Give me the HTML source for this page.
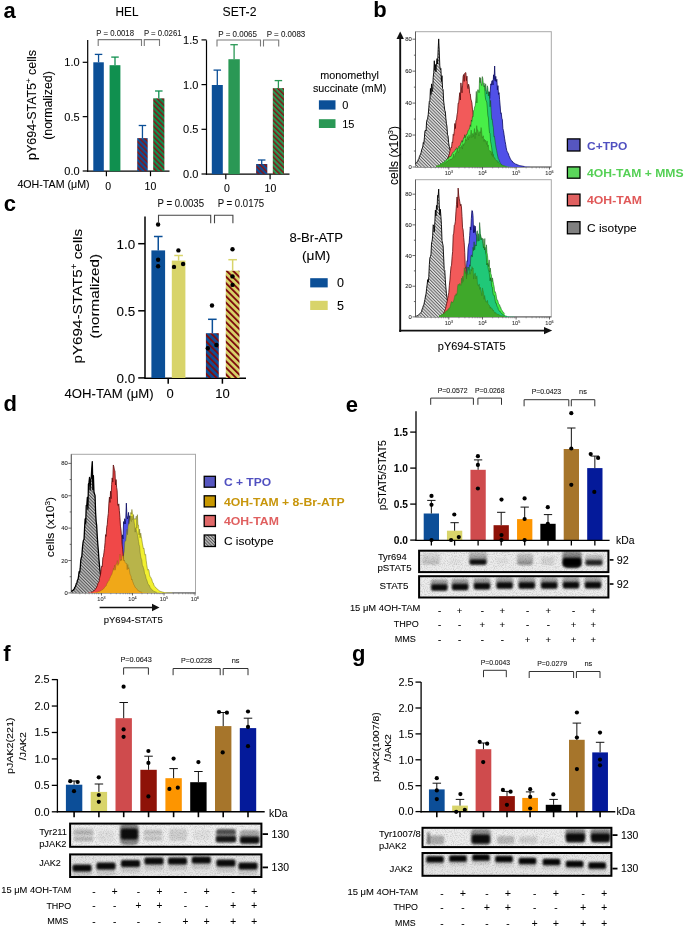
<!DOCTYPE html><html><head><meta charset="utf-8"><style>html,body{margin:0;padding:0;background:#fff;overflow:hidden}svg{display:block;will-change:transform}text{font-family:"Liberation Sans",sans-serif}</style></head><body>
<svg width="685" height="929" viewBox="0 0 685 929">
<defs>
<pattern id="hb" patternUnits="userSpaceOnUse" width="3.7" height="3.7" patternTransform="rotate(-45)"><rect width="3.7" height="3.7" fill="#0b4f97"/><rect x="0" y="0" width="1.5" height="3.7" fill="#861414"/></pattern>
<pattern id="hg" patternUnits="userSpaceOnUse" width="3.7" height="3.7" patternTransform="rotate(-45)"><rect width="3.7" height="3.7" fill="#10904f"/><rect x="0" y="0" width="1.5" height="3.7" fill="#861414"/></pattern>
<pattern id="hg2" patternUnits="userSpaceOnUse" width="3.7" height="3.7" patternTransform="rotate(-45)"><rect width="3.7" height="3.7" fill="#2a9855"/><rect x="0" y="0" width="1.5" height="3.7" fill="#861414"/></pattern>
<pattern id="hy" patternUnits="userSpaceOnUse" width="4.6" height="4.6" patternTransform="rotate(-45)"><rect width="4.6" height="4.6" fill="#d8d46a"/><rect x="0" y="0" width="1.9" height="4.6" fill="#7e0e0e"/></pattern>
<pattern id="hbc" patternUnits="userSpaceOnUse" width="4.6" height="4.6" patternTransform="rotate(-45)"><rect width="4.6" height="4.6" fill="#0b4f97"/><rect x="0" y="0" width="1.9" height="4.6" fill="#7e0e0e"/></pattern>
<pattern id="gh2" patternUnits="userSpaceOnUse" width="2.3" height="2.3" patternTransform="rotate(-45)"><rect width="2.3" height="2.3" fill="#c4c4c4"/><rect width="1.05" height="2.3" fill="#555"/></pattern>
<pattern id="gh" patternUnits="userSpaceOnUse" width="2.3" height="2.3" patternTransform="rotate(-45)"><rect width="2.3" height="2.3" fill="#e4e4e4"/><rect width="1.0" height="2.3" fill="#606060"/></pattern>
<filter id="bl1" x="-50%" y="-50%" width="200%" height="200%"><feGaussianBlur stdDeviation="1.2"/></filter>
<filter id="bl2" x="-50%" y="-50%" width="200%" height="200%"><feGaussianBlur stdDeviation="2"/></filter>
<filter id="bl05" x="-50%" y="-50%" width="200%" height="200%"><feGaussianBlur stdDeviation="0.6"/></filter>
<filter id="grain" x="0" y="0" width="100%" height="100%"><feTurbulence type="fractalNoise" baseFrequency="0.9" numOctaves="2" seed="3"/><feColorMatrix type="matrix" values="0 0 0 0 0  0 0 0 0 0  0 0 0 0 0  0 0 0 -2.2 1.25"/></filter>
<linearGradient id="bg1" x1="0" y1="0" x2="0" y2="1"><stop offset="0" stop-color="#000" stop-opacity="0.25"/><stop offset="0.55" stop-color="#000" stop-opacity="0.6"/><stop offset="1" stop-color="#000" stop-opacity="1"/></linearGradient>
</defs>
<text x="3.5" y="17.7" font-size="22" font-weight="bold" fill="#000">a</text>
<text x="373.2" y="16.6" font-size="22" font-weight="bold" fill="#000">b</text>
<text x="3.8" y="211" font-size="22" font-weight="bold" fill="#000">c</text>
<text x="3.5" y="410.8" font-size="22" font-weight="bold" fill="#000">d</text>
<text x="3.3" y="660.5" font-size="22" font-weight="bold" fill="#000">f</text>
<text x="352.0" y="661.3" font-size="22" font-weight="bold" fill="#000">g</text>
<text x="345.7" y="411.5" font-size="22" font-weight="bold" fill="#000">e</text>
<text x="127" y="16.2" font-size="12" text-anchor="middle" textLength="22.9" lengthAdjust="spacingAndGlyphs" fill="#000" stroke="#000" stroke-width="0.08">HEL</text>
<line x1="87.7" y1="40.0" x2="87.7" y2="171.79999999999998" stroke="#000" stroke-width="1.2"/>
<line x1="82.7" y1="62.3" x2="87.7" y2="62.3" stroke="#000" stroke-width="1.2"/>
<text x="79.6" y="66.25999999999999" font-size="11" text-anchor="end" fill="#000" stroke="#000" stroke-width="0.08">1.0</text>
<line x1="82.7" y1="116.65" x2="87.7" y2="116.65" stroke="#000" stroke-width="1.2"/>
<text x="79.6" y="120.61" font-size="11" text-anchor="end" fill="#000" stroke="#000" stroke-width="0.08">0.5</text>
<line x1="82.7" y1="171.0" x2="87.7" y2="171.0" stroke="#000" stroke-width="1.2"/>
<text x="79.6" y="174.96" font-size="11" text-anchor="end" fill="#000" stroke="#000" stroke-width="0.08">0.0</text>
<line x1="87.10000000000001" y1="171.2" x2="169.5" y2="171.2" stroke="#000" stroke-width="1.2"/>
<line x1="106.4" y1="171.2" x2="106.4" y2="176.2" stroke="#000" stroke-width="1.2"/>
<line x1="150.5" y1="171.2" x2="150.5" y2="176.2" stroke="#000" stroke-width="1.2"/>
<rect x="93.3" y="62.3" width="10.5" height="108.9" fill="#0b4f97"/>
<line x1="98.55" y1="62.3" x2="98.55" y2="54.4" stroke="#0b4f97" stroke-width="1.3"/>
<line x1="94.8" y1="54.4" x2="102.3" y2="54.4" stroke="#0b4f97" stroke-width="1.3"/>
<rect x="109.6" y="65.2" width="10.8" height="106.0" fill="#10904f"/>
<line x1="115.0" y1="65.2" x2="115.0" y2="57.1" stroke="#10904f" stroke-width="1.3"/>
<line x1="111.25" y1="57.1" x2="118.75" y2="57.1" stroke="#10904f" stroke-width="1.3"/>
<rect x="137.2" y="138.1" width="10.5" height="33.1" fill="url(#hb)"/>
<line x1="142.45" y1="138.1" x2="142.45" y2="125.5" stroke="#0b4f97" stroke-width="1.3"/>
<line x1="138.7" y1="125.5" x2="146.2" y2="125.5" stroke="#0b4f97" stroke-width="1.3"/>
<rect x="153.2" y="98.3" width="11.2" height="72.9" fill="url(#hg)"/>
<line x1="158.8" y1="98.3" x2="158.8" y2="91.0" stroke="#10904f" stroke-width="1.3"/>
<line x1="155.05" y1="91.0" x2="162.55" y2="91.0" stroke="#10904f" stroke-width="1.3"/>
<polyline points="98.2,46.0 98.2,39.6 141.5,39.6 141.5,46.0" fill="none" stroke="#7a7a7a" stroke-width="1.1"/>
<polyline points="144.3,46.0 144.3,39.6 159.5,39.6 159.5,46.0" fill="none" stroke="#7a7a7a" stroke-width="1.1"/>
<text x="96.3" y="35.9" font-size="8.6" textLength="37.7" lengthAdjust="spacingAndGlyphs" fill="#222" stroke="#222" stroke-width="0.08">P = 0.0018</text>
<text x="143.9" y="35.9" font-size="8.6" textLength="37.7" lengthAdjust="spacingAndGlyphs" fill="#222" stroke="#222" stroke-width="0.08">P = 0.0261</text>
<text x="239.5" y="16.2" font-size="12" text-anchor="middle" textLength="33.9" lengthAdjust="spacingAndGlyphs" fill="#000" stroke="#000" stroke-width="0.08">SET-2</text>
<line x1="206.5" y1="40.3" x2="206.5" y2="174.79999999999998" stroke="#000" stroke-width="1.2"/>
<line x1="201.5" y1="39.89999999999998" x2="206.5" y2="39.89999999999998" stroke="#000" stroke-width="1.2"/>
<text x="198.4" y="43.85999999999998" font-size="11" text-anchor="end" fill="#000" stroke="#000" stroke-width="0.08">1.5</text>
<line x1="201.5" y1="84.6" x2="206.5" y2="84.6" stroke="#000" stroke-width="1.2"/>
<text x="198.4" y="88.55999999999999" font-size="11" text-anchor="end" fill="#000" stroke="#000" stroke-width="0.08">1.0</text>
<line x1="201.5" y1="129.3" x2="206.5" y2="129.3" stroke="#000" stroke-width="1.2"/>
<text x="198.4" y="133.26000000000002" font-size="11" text-anchor="end" fill="#000" stroke="#000" stroke-width="0.08">0.5</text>
<line x1="201.5" y1="174.0" x2="206.5" y2="174.0" stroke="#000" stroke-width="1.2"/>
<text x="198.4" y="177.96" font-size="11" text-anchor="end" fill="#000" stroke="#000" stroke-width="0.08">0.0</text>
<line x1="205.9" y1="174.2" x2="289.5" y2="174.2" stroke="#000" stroke-width="1.2"/>
<line x1="225.8" y1="174.2" x2="225.8" y2="179.2" stroke="#000" stroke-width="1.2"/>
<line x1="270.1" y1="174.2" x2="270.1" y2="179.2" stroke="#000" stroke-width="1.2"/>
<rect x="211.8" y="85.0" width="11.0" height="89.2" fill="#0b4f97"/>
<line x1="217.3" y1="85.0" x2="217.3" y2="70.1" stroke="#0b4f97" stroke-width="1.3"/>
<line x1="213.55" y1="70.1" x2="221.05" y2="70.1" stroke="#0b4f97" stroke-width="1.3"/>
<rect x="228.4" y="59.2" width="11.4" height="115.0" fill="#2a9855"/>
<line x1="234.1" y1="59.2" x2="234.1" y2="44.7" stroke="#2a9855" stroke-width="1.3"/>
<line x1="230.35" y1="44.7" x2="237.85" y2="44.7" stroke="#2a9855" stroke-width="1.3"/>
<rect x="256.1" y="164.0" width="11.2" height="10.2" fill="url(#hb)"/>
<line x1="261.7" y1="164.0" x2="261.7" y2="160.0" stroke="#0b4f97" stroke-width="1.3"/>
<line x1="257.95" y1="160.0" x2="265.45" y2="160.0" stroke="#0b4f97" stroke-width="1.3"/>
<rect x="272.8" y="88.1" width="11.2" height="86.1" fill="url(#hg2)"/>
<line x1="278.4" y1="88.1" x2="278.4" y2="80.6" stroke="#2a9855" stroke-width="1.3"/>
<line x1="274.65" y1="80.6" x2="282.15" y2="80.6" stroke="#2a9855" stroke-width="1.3"/>
<polyline points="217.0,46.4 217.0,40.0 260.5,40.0 260.5,46.4" fill="none" stroke="#7a7a7a" stroke-width="1.1"/>
<polyline points="263.5,46.4 263.5,40.0 278.7,40.0 278.7,46.4" fill="none" stroke="#7a7a7a" stroke-width="1.1"/>
<text x="218.3" y="36.6" font-size="8.6" textLength="38.7" lengthAdjust="spacingAndGlyphs" fill="#222" stroke="#222" stroke-width="0.08">P = 0.0065</text>
<text x="266.7" y="36.6" font-size="8.6" textLength="38.6" lengthAdjust="spacingAndGlyphs" fill="#222" stroke="#222" stroke-width="0.08">P = 0.0083</text>
<text x="108.1" y="189.6" font-size="10.5" text-anchor="middle" fill="#000" stroke="#000" stroke-width="0.08">0</text>
<text x="150.4" y="189.6" font-size="10.5" text-anchor="middle" fill="#000" stroke="#000" stroke-width="0.08">10</text>
<text x="227.0" y="191.7" font-size="10.5" text-anchor="middle" fill="#000" stroke="#000" stroke-width="0.08">0</text>
<text x="270.4" y="191.7" font-size="10.5" text-anchor="middle" fill="#000" stroke="#000" stroke-width="0.08">10</text>
<text x="17.4" y="188.2" font-size="10.5" textLength="72.2" lengthAdjust="spacingAndGlyphs" fill="#000" stroke="#000" stroke-width="0.08">4OH-TAM (μM)</text>
<text x="36.1" y="105.0" font-size="12" text-anchor="middle" textLength="109.8" lengthAdjust="spacingAndGlyphs" transform="rotate(-90 36.1 105.0)" fill="#000" stroke="#000" stroke-width="0.08">pY694-STAT5<tspan font-size="7.5" dy="-4.6">+</tspan><tspan dy="4.6"> cells</tspan></text>
<text x="51.7" y="105.5" font-size="12" text-anchor="middle" textLength="68.5" lengthAdjust="spacingAndGlyphs" transform="rotate(-90 51.7 105.5)" fill="#000" stroke="#000" stroke-width="0.08">(normalized)</text>
<text x="349.6" y="78.9" font-size="10.5" text-anchor="middle" textLength="58.7" lengthAdjust="spacingAndGlyphs" fill="#000" stroke="#000" stroke-width="0.08">monomethyl</text>
<text x="349.6" y="91.9" font-size="10.5" text-anchor="middle" textLength="73.3" lengthAdjust="spacingAndGlyphs" fill="#000" stroke="#000" stroke-width="0.08">succinate (mM)</text>
<rect x="318.9" y="100.3" width="16.6" height="9.3" fill="#0b4f97"/>
<rect x="318.9" y="119.2" width="16.6" height="8.8" fill="#2a9855"/>
<text x="342.2" y="109.0" font-size="11" fill="#000" stroke="#000" stroke-width="0.08">0</text>
<text x="342.2" y="128.0" font-size="11" fill="#000" stroke="#000" stroke-width="0.08">15</text>
<line x1="145.0" y1="216.6" x2="145.0" y2="378.6" stroke="#000" stroke-width="1.5"/>
<line x1="138.2" y1="243.7" x2="145.0" y2="243.7" stroke="#000" stroke-width="1.5"/>
<text x="135.2" y="248.524" font-size="13.4" text-anchor="end" fill="#000" stroke="#000" stroke-width="0.08">1.0</text>
<line x1="138.2" y1="310.79999999999995" x2="145.0" y2="310.79999999999995" stroke="#000" stroke-width="1.5"/>
<text x="135.2" y="315.62399999999997" font-size="13.4" text-anchor="end" fill="#000" stroke="#000" stroke-width="0.08">0.5</text>
<line x1="138.2" y1="377.9" x2="145.0" y2="377.9" stroke="#000" stroke-width="1.5"/>
<text x="135.2" y="382.724" font-size="13.4" text-anchor="end" fill="#000" stroke="#000" stroke-width="0.08">0.0</text>
<line x1="144.4" y1="378.2" x2="246.0" y2="378.2" stroke="#000" stroke-width="1.5"/>
<line x1="168.2" y1="378.2" x2="168.2" y2="383.7" stroke="#000" stroke-width="1.5"/>
<line x1="222.4" y1="378.2" x2="222.4" y2="383.7" stroke="#000" stroke-width="1.5"/>
<rect x="151.4" y="250.4" width="13.7" height="127.6" fill="#0b4f97"/>
<line x1="158.25" y1="250.4" x2="158.25" y2="236.5" stroke="#0b4f97" stroke-width="1.5"/>
<line x1="153.95" y1="236.5" x2="162.55" y2="236.5" stroke="#0b4f97" stroke-width="1.5"/>
<rect x="171.8" y="260.6" width="13.6" height="117.4" fill="#d8d46a"/>
<line x1="178.6" y1="260.6" x2="178.6" y2="255.5" stroke="#d8d46a" stroke-width="1.5"/>
<line x1="174.29999999999998" y1="255.5" x2="182.9" y2="255.5" stroke="#d8d46a" stroke-width="1.5"/>
<rect x="205.9" y="333.2" width="12.9" height="44.8" fill="url(#hbc)"/>
<line x1="212.35" y1="333.2" x2="212.35" y2="319.3" stroke="#0b4f97" stroke-width="1.5"/>
<line x1="208.04999999999998" y1="319.3" x2="216.65" y2="319.3" stroke="#0b4f97" stroke-width="1.5"/>
<rect x="225.8" y="270.7" width="13.7" height="107.3" fill="url(#hy)"/>
<line x1="232.65" y1="270.7" x2="232.65" y2="259.7" stroke="#d8d46a" stroke-width="1.5"/>
<line x1="228.35" y1="259.7" x2="236.95000000000002" y2="259.7" stroke="#d8d46a" stroke-width="1.5"/>
<circle cx="158.1" cy="224.5" r="2.2" fill="#000"/>
<circle cx="158.1" cy="259.7" r="2.2" fill="#000"/>
<circle cx="158.1" cy="266.3" r="2.2" fill="#000"/>
<circle cx="178.4" cy="250.4" r="2.2" fill="#000"/>
<circle cx="174.0" cy="266.9" r="2.2" fill="#000"/>
<circle cx="183.1" cy="264.0" r="2.2" fill="#000"/>
<circle cx="232.5" cy="249.2" r="2.2" fill="#000"/>
<circle cx="232.5" cy="276.4" r="2.2" fill="#000"/>
<circle cx="232.5" cy="284.9" r="2.2" fill="#000"/>
<circle cx="212.0" cy="305.5" r="2.2" fill="#000"/>
<circle cx="207.8" cy="348.2" r="2.2" fill="#000"/>
<circle cx="216.4" cy="345.0" r="2.2" fill="#000"/>
<polyline points="158.5,223.2 158.5,215.2 210.7,215.2 210.7,223.2" fill="none" stroke="#444" stroke-width="1.1"/>
<polyline points="214.5,223.2 214.5,215.2 232.9,215.2 232.9,223.2" fill="none" stroke="#444" stroke-width="1.1"/>
<text x="157.5" y="207.1" font-size="10" textLength="46.5" lengthAdjust="spacingAndGlyphs" fill="#111" stroke="#111" stroke-width="0.08">P = 0.0035</text>
<text x="217.7" y="207.1" font-size="10" textLength="46.5" lengthAdjust="spacingAndGlyphs" fill="#111" stroke="#111" stroke-width="0.08">P = 0.0175</text>
<text x="170.0" y="398.0" font-size="13" text-anchor="middle" fill="#000" stroke="#000" stroke-width="0.08">0</text>
<text x="222.4" y="398.0" font-size="13" text-anchor="middle" fill="#000" stroke="#000" stroke-width="0.08">10</text>
<text x="64.5" y="397.5" font-size="13" textLength="89.2" lengthAdjust="spacingAndGlyphs" fill="#000" stroke="#000" stroke-width="0.08">4OH-TAM (μM)</text>
<text x="82.2" y="296.2" font-size="13.2" text-anchor="middle" textLength="134.6" lengthAdjust="spacingAndGlyphs" transform="rotate(-90 82.2 296.2)" fill="#000" stroke="#000" stroke-width="0.08">pY694-STAT5<tspan font-size="8.5" dy="-5">+</tspan><tspan dy="5"> cells</tspan></text>
<text x="99.5" y="296.2" font-size="13.5" text-anchor="middle" textLength="84.6" lengthAdjust="spacingAndGlyphs" transform="rotate(-90 99.5 296.2)" fill="#000" stroke="#000" stroke-width="0.08">(normalized)</text>
<text x="316.2" y="241.5" font-size="12.5" text-anchor="middle" textLength="53.6" lengthAdjust="spacingAndGlyphs" fill="#000" stroke="#000" stroke-width="0.08">8-Br-ATP</text>
<text x="316.2" y="259.5" font-size="12.5" text-anchor="middle" textLength="28.5" lengthAdjust="spacingAndGlyphs" fill="#000" stroke="#000" stroke-width="0.08">(μM)</text>
<rect x="310.2" y="278.2" width="17.5" height="9.2" fill="#0b4f97"/>
<rect x="310.2" y="300.8" width="17.5" height="9.2" fill="#d8d46a"/>
<text x="337.0" y="287.4" font-size="12.5" fill="#000" stroke="#000" stroke-width="0.08">0</text>
<text x="337.0" y="310.0" font-size="12.5" fill="#000" stroke="#000" stroke-width="0.08">5</text>
<rect x="415.5" y="31.7" width="135.8" height="135.3" fill="#fff" stroke="#a8a8a8" stroke-width="1"/>
<line x1="415.5" y1="31.7" x2="415.5" y2="167.0" stroke="#555" stroke-width="0.9"/>
<line x1="415.5" y1="167.0" x2="551.3" y2="167.0" stroke="#555" stroke-width="0.9"/>
<line x1="412.5" y1="167.0" x2="415.5" y2="167.0" stroke="#444" stroke-width="0.8"/>
<text x="411.9" y="169.0" font-size="5.9" text-anchor="end" fill="#222" stroke="#222" stroke-width="0.08">0</text>
<line x1="413.9" y1="151.025" x2="415.5" y2="151.025" stroke="#444" stroke-width="0.8"/>
<line x1="412.5" y1="135.05" x2="415.5" y2="135.05" stroke="#444" stroke-width="0.8"/>
<text x="411.9" y="137.05" font-size="5.9" text-anchor="end" fill="#222" stroke="#222" stroke-width="0.08">20</text>
<line x1="413.9" y1="119.075" x2="415.5" y2="119.075" stroke="#444" stroke-width="0.8"/>
<line x1="412.5" y1="103.1" x2="415.5" y2="103.1" stroke="#444" stroke-width="0.8"/>
<text x="411.9" y="105.1" font-size="5.9" text-anchor="end" fill="#222" stroke="#222" stroke-width="0.08">40</text>
<line x1="413.9" y1="87.125" x2="415.5" y2="87.125" stroke="#444" stroke-width="0.8"/>
<line x1="412.5" y1="71.15" x2="415.5" y2="71.15" stroke="#444" stroke-width="0.8"/>
<text x="411.9" y="73.15" font-size="5.9" text-anchor="end" fill="#222" stroke="#222" stroke-width="0.08">60</text>
<line x1="413.9" y1="55.17500000000001" x2="415.5" y2="55.17500000000001" stroke="#444" stroke-width="0.8"/>
<line x1="412.5" y1="39.2" x2="415.5" y2="39.2" stroke="#444" stroke-width="0.8"/>
<text x="411.9" y="41.2" font-size="5.9" text-anchor="end" fill="#222" stroke="#222" stroke-width="0.08">80</text>
<line x1="448.8" y1="167.0" x2="448.8" y2="169.6" stroke="#444" stroke-width="0.8"/>
<text x="448.8" y="175.4" font-size="5.605" text-anchor="middle" fill="#333" stroke="#333" stroke-width="0.08">10<tspan font-size="3.7" dy="-2">3</tspan></text>
<line x1="458.9447108538762" y1="167.0" x2="458.9447108538762" y2="168.4" stroke="#666" stroke-width="0.6"/>
<line x1="464.87898628405264" y1="167.0" x2="464.87898628405264" y2="168.4" stroke="#666" stroke-width="0.6"/>
<line x1="469.0894217077523" y1="167.0" x2="469.0894217077523" y2="168.4" stroke="#666" stroke-width="0.6"/>
<line x1="472.3552891461238" y1="167.0" x2="472.3552891461238" y2="168.4" stroke="#666" stroke-width="0.6"/>
<line x1="475.0236971379288" y1="167.0" x2="475.0236971379288" y2="168.4" stroke="#666" stroke-width="0.6"/>
<line x1="477.27980394848043" y1="167.0" x2="477.27980394848043" y2="168.4" stroke="#666" stroke-width="0.6"/>
<line x1="479.2341325616285" y1="167.0" x2="479.2341325616285" y2="168.4" stroke="#666" stroke-width="0.6"/>
<line x1="480.9579725681052" y1="167.0" x2="480.9579725681052" y2="168.4" stroke="#666" stroke-width="0.6"/>
<line x1="482.5" y1="167.0" x2="482.5" y2="169.6" stroke="#444" stroke-width="0.8"/>
<text x="482.5" y="175.4" font-size="5.605" text-anchor="middle" fill="#333" stroke="#333" stroke-width="0.08">10<tspan font-size="3.7" dy="-2">4</tspan></text>
<line x1="492.6146078543098" y1="167.0" x2="492.6146078543098" y2="168.4" stroke="#666" stroke-width="0.6"/>
<line x1="498.5312741585807" y1="167.0" x2="498.5312741585807" y2="168.4" stroke="#666" stroke-width="0.6"/>
<line x1="502.72921570861956" y1="167.0" x2="502.72921570861956" y2="168.4" stroke="#666" stroke-width="0.6"/>
<line x1="505.98539214569024" y1="167.0" x2="505.98539214569024" y2="168.4" stroke="#666" stroke-width="0.6"/>
<line x1="508.64588201289047" y1="167.0" x2="508.64588201289047" y2="168.4" stroke="#666" stroke-width="0.6"/>
<line x1="510.89529414447907" y1="167.0" x2="510.89529414447907" y2="168.4" stroke="#666" stroke-width="0.6"/>
<line x1="512.8438235629293" y1="167.0" x2="512.8438235629293" y2="168.4" stroke="#666" stroke-width="0.6"/>
<line x1="514.5625483171614" y1="167.0" x2="514.5625483171614" y2="168.4" stroke="#666" stroke-width="0.6"/>
<line x1="516.1" y1="167.0" x2="516.1" y2="169.6" stroke="#444" stroke-width="0.8"/>
<text x="516.1" y="175.4" font-size="5.605" text-anchor="middle" fill="#333" stroke="#333" stroke-width="0.08">10<tspan font-size="3.7" dy="-2">5</tspan></text>
<line x1="526.154401855177" y1="167.0" x2="526.154401855177" y2="168.4" stroke="#666" stroke-width="0.6"/>
<line x1="532.0358499076367" y1="167.0" x2="532.0358499076367" y2="168.4" stroke="#666" stroke-width="0.6"/>
<line x1="536.208803710354" y1="167.0" x2="536.208803710354" y2="168.4" stroke="#666" stroke-width="0.6"/>
<line x1="539.4455981448231" y1="167.0" x2="539.4455981448231" y2="168.4" stroke="#666" stroke-width="0.6"/>
<line x1="542.0902517628138" y1="167.0" x2="542.0902517628138" y2="168.4" stroke="#666" stroke-width="0.6"/>
<line x1="544.3262745364761" y1="167.0" x2="544.3262745364761" y2="168.4" stroke="#666" stroke-width="0.6"/>
<line x1="546.2632055655309" y1="167.0" x2="546.2632055655309" y2="168.4" stroke="#666" stroke-width="0.6"/>
<line x1="547.9716998152735" y1="167.0" x2="547.9716998152735" y2="168.4" stroke="#666" stroke-width="0.6"/>
<line x1="549.5" y1="167.0" x2="549.5" y2="169.6" stroke="#444" stroke-width="0.8"/>
<text x="549.5" y="175.4" font-size="5.605" text-anchor="middle" fill="#333" stroke="#333" stroke-width="0.08">10<tspan font-size="3.7" dy="-2">6</tspan></text>
<line x1="425.2447108538762" y1="167.0" x2="425.2447108538762" y2="168.4" stroke="#666" stroke-width="0.6"/>
<line x1="431.17898628405266" y1="167.0" x2="431.17898628405266" y2="168.4" stroke="#666" stroke-width="0.6"/>
<line x1="435.3894217077524" y1="167.0" x2="435.3894217077524" y2="168.4" stroke="#666" stroke-width="0.6"/>
<line x1="438.65528914612383" y1="167.0" x2="438.65528914612383" y2="168.4" stroke="#666" stroke-width="0.6"/>
<line x1="441.3236971379288" y1="167.0" x2="441.3236971379288" y2="168.4" stroke="#666" stroke-width="0.6"/>
<line x1="443.57980394848045" y1="167.0" x2="443.57980394848045" y2="168.4" stroke="#666" stroke-width="0.6"/>
<line x1="445.5341325616285" y1="167.0" x2="445.5341325616285" y2="168.4" stroke="#666" stroke-width="0.6"/>
<line x1="447.2579725681053" y1="167.0" x2="447.2579725681053" y2="168.4" stroke="#666" stroke-width="0.6"/>
<polygon points="415.6,167.0 415.6,163.87 416.15,162.92 416.7,162.69 417.25,161.47 417.8,161.2 418.35,159.37 418.9,158.6 419.45,156.43 420.0,155.23 420.55,154.14 421.1,152.64 421.65,149.95 422.2,148.3 422.75,147.0 423.3,142.5 423.85,143.47 424.4,137.77 424.95,131.05 425.5,130.11 426.05,131.02 426.6,121.31 427.15,119.79 427.7,118.18 428.25,114.35 428.8,107.82 429.35,100.98 429.9,100.41 430.45,88.44 431.0,94.61 431.55,83.88 432.1,91.67 432.65,89.85 433.2,77.54 433.75,72.34 434.3,60.74 434.85,70.39 435.4,64.54 435.95,71.83 436.5,62.85 437.05,58.6 437.6,64.03 438.15,49.38 438.7,38.91 439.25,50.97 439.8,65.92 440.35,69.6 440.9,68.53 441.45,81.54 442.0,75.69 442.55,88.47 443.1,89.6 443.65,100.94 444.2,105.51 444.75,110.34 445.3,111.34 445.85,118.26 446.4,123.36 446.95,126.22 447.5,134.9 448.05,135.85 448.6,142.24 449.15,146.11 449.7,148.77 450.25,150.04 450.8,152.27 451.35,156.18 451.9,158.33 452.45,160.1 453.0,160.78 453.55,161.85 454.1,162.87 454.65,163.74 455.2,164.25 455.75,165.0 455.75,167.0" fill="url(#gh)" stroke="none"/>
<polyline points="415.6,163.87 416.15,162.92 416.7,162.69 417.25,161.47 417.8,161.2 418.35,159.37 418.9,158.6 419.45,156.43 420.0,155.23 420.55,154.14 421.1,152.64 421.65,149.95 422.2,148.3 422.75,147.0 423.3,142.5 423.85,143.47 424.4,137.77 424.95,131.05 425.5,130.11 426.05,131.02 426.6,121.31 427.15,119.79 427.7,118.18 428.25,114.35 428.8,107.82 429.35,100.98 429.9,100.41 430.45,88.44 431.0,94.61 431.55,83.88 432.1,91.67 432.65,89.85 433.2,77.54 433.75,72.34 434.3,60.74 434.85,70.39 435.4,64.54 435.95,71.83 436.5,62.85 437.05,58.6 437.6,64.03 438.15,49.38 438.7,38.91 439.25,50.97 439.8,65.92 440.35,69.6 440.9,68.53 441.45,81.54 442.0,75.69 442.55,88.47 443.1,89.6 443.65,100.94 444.2,105.51 444.75,110.34 445.3,111.34 445.85,118.26 446.4,123.36 446.95,126.22 447.5,134.9 448.05,135.85 448.6,142.24 449.15,146.11 449.7,148.77 450.25,150.04 450.8,152.27 451.35,156.18 451.9,158.33 452.45,160.1 453.0,160.78 453.55,161.85 454.1,162.87 454.65,163.74 455.2,164.25 455.75,165.0" fill="none" stroke="#000" stroke-width="0.9" stroke-linejoin="round"/>
<polygon points="416,167.0 416,167.0 416.55,167.0 417.1,167.0 417.65,167.0 418.2,167.0 418.75,167.0 419.3,167.0 419.85,167.0 420.4,167.0 420.95,167.0 421.5,167.0 422.05,167.0 422.6,167.0 423.15,167.0 423.7,167.0 424.25,167.0 424.8,167.0 425.35,167.0 425.9,167.0 426.45,167.0 427.0,167.0 427.55,167.0 428.1,167.0 428.65,167.0 429.2,167.0 429.75,167.0 430.3,167.0 430.85,167.0 431.4,167.0 431.95,167.0 432.5,167.0 433.05,167.0 433.6,167.0 434.15,167.0 434.7,167.0 435.25,167.0 435.8,167.0 436.35,167.0 436.9,167.0 437.45,167.0 438.0,167.0 438.55,167.0 439.1,167.0 439.65,167.0 440.2,167.0 440.75,167.0 441.3,167.0 441.85,167.0 442.4,167.0 442.95,167.0 443.5,167.0 444.05,167.0 444.6,167.0 445.15,167.0 445.7,167.0 446.25,167.0 446.8,167.0 447.35,167.0 447.9,167.0 448.45,167.0 449.0,167.0 449.55,167.0 450.1,167.0 450.65,167.0 451.2,167.0 451.75,167.0 452.3,167.0 452.85,167.0 453.4,167.0 453.95,167.0 454.5,167.0 455.05,167.0 455.6,167.0 456.15,167.0 456.7,167.0 457.25,167.0 457.8,166.99 458.35,166.99 458.9,166.99 459.45,166.99 460.0,166.98 460.55,166.98 461.1,166.97 461.65,166.97 462.2,166.96 462.75,166.95 463.3,166.93 463.85,166.91 464.4,166.89 464.95,166.86 465.5,166.83 466.05,166.79 466.6,166.73 467.15,166.67 467.7,166.59 468.25,166.52 468.8,166.35 469.35,166.18 469.9,166.08 470.45,165.94 471.0,165.61 471.55,165.26 472.1,164.83 472.65,164.74 473.2,164.32 473.75,163.4 474.3,162.8 474.85,161.74 475.4,161.02 475.95,160.44 476.5,159.46 477.05,157.16 477.6,156.94 478.15,155.81 478.7,154.5 479.25,151.65 479.8,149.57 480.35,147.92 480.9,145.22 481.45,142.18 482.0,138.71 482.55,134.95 483.1,133.45 483.65,134.55 484.2,125.63 484.75,127.52 485.3,120.78 485.85,121.14 486.4,113.05 486.95,112.11 487.5,105.03 488.05,95.3 488.6,99.07 489.15,91.99 489.7,98.42 490.25,90.97 490.8,83.84 491.35,85.15 491.9,80.81 492.45,80.48 493.0,84.98 493.55,74.81 494.1,79.4 494.65,66.0 495.2,81.02 495.75,76.35 496.3,81.72 496.85,79.34 497.4,89.84 497.95,85.65 498.5,94.47 499.05,92.66 499.6,99.66 500.15,105.9 500.7,113.45 501.25,112.82 501.8,118.21 502.35,119.49 502.9,128.69 503.45,130.46 504.0,134.28 504.55,138.12 505.1,141.38 505.65,144.28 506.2,147.79 506.75,150.45 507.3,151.8 507.85,152.76 508.4,153.75 508.95,155.63 509.5,156.89 510.05,158.18 510.6,159.19 511.15,160.25 511.7,160.75 512.25,161.08 512.8,162.29 513.35,162.85 513.9,162.67 514.45,163.41 515.0,163.61 515.55,163.94 516.1,164.54 516.65,164.34 517.2,164.59 517.75,165.0 518.3,165.13 518.85,165.37 519.4,165.61 519.95,165.68 520.5,165.78 521.05,165.85 521.6,165.99 522.15,166.13 522.7,166.16 523.25,166.34 523.8,166.36 524.35,166.42 524.9,166.53 525.45,166.57 526.0,166.62 526.55,166.67 527.1,166.71 527.65,166.75 528.2,166.78 528.75,166.81 529.3,166.83 529.85,166.86 529.85,167.0" fill="#5050e8" stroke="none"/>
<polyline points="468.8,166.35 469.35,166.18 469.9,166.08 470.45,165.94 471.0,165.61 471.55,165.26 472.1,164.83 472.65,164.74 473.2,164.32 473.75,163.4 474.3,162.8 474.85,161.74 475.4,161.02 475.95,160.44 476.5,159.46 477.05,157.16 477.6,156.94 478.15,155.81 478.7,154.5 479.25,151.65 479.8,149.57 480.35,147.92 480.9,145.22 481.45,142.18 482.0,138.71 482.55,134.95 483.1,133.45 483.65,134.55 484.2,125.63 484.75,127.52 485.3,120.78 485.85,121.14 486.4,113.05 486.95,112.11 487.5,105.03 488.05,95.3 488.6,99.07 489.15,91.99 489.7,98.42 490.25,90.97 490.8,83.84 491.35,85.15 491.9,80.81 492.45,80.48 493.0,84.98 493.55,74.81 494.1,79.4 494.65,66.0 495.2,81.02 495.75,76.35 496.3,81.72 496.85,79.34 497.4,89.84 497.95,85.65 498.5,94.47 499.05,92.66 499.6,99.66 500.15,105.9 500.7,113.45 501.25,112.82 501.8,118.21 502.35,119.49 502.9,128.69 503.45,130.46 504.0,134.28 504.55,138.12 505.1,141.38 505.65,144.28 506.2,147.79 506.75,150.45 507.3,151.8 507.85,152.76 508.4,153.75 508.95,155.63 509.5,156.89 510.05,158.18 510.6,159.19 511.15,160.25 511.7,160.75 512.25,161.08 512.8,162.29 513.35,162.85 513.9,162.67 514.45,163.41 515.0,163.61 515.55,163.94 516.1,164.54 516.65,164.34 517.2,164.59 517.75,165.0 518.3,165.13 518.85,165.37 519.4,165.61 519.95,165.68 520.5,165.78 521.05,165.85 521.6,165.99 522.15,166.13 522.7,166.16 523.25,166.34 523.8,166.36 524.35,166.42" fill="none" stroke="#0a0a60" stroke-width="0.8" stroke-linejoin="round"/>
<polygon points="440,167.0 440,167.0 440.55,167.0 441.1,167.0 441.65,167.0 442.2,167.0 442.75,167.0 443.3,167.0 443.85,167.0 444.4,167.0 444.95,167.0 445.5,167.0 446.05,167.0 446.6,167.0 447.15,166.99 447.7,166.99 448.25,166.99 448.8,166.99 449.35,166.98 449.9,166.98 450.45,166.97 451.0,166.96 451.55,166.95 452.1,166.94 452.65,166.93 453.2,166.91 453.75,166.88 454.3,166.86 454.85,166.82 455.4,166.78 455.95,166.73 456.5,166.67 457.05,166.59 457.6,166.55 458.15,166.39 458.7,166.29 459.25,166.15 459.8,165.89 460.35,165.74 460.9,165.54 461.45,165.04 462.0,164.98 462.55,164.73 463.1,164.36 463.65,163.74 464.2,162.93 464.75,162.22 465.3,161.39 465.85,160.3 466.4,159.35 466.95,158.76 467.5,157.25 468.05,156.36 468.6,155.82 469.15,153.32 469.7,152.33 470.25,150.87 470.8,146.91 471.35,145.9 471.9,145.37 472.45,142.59 473.0,137.3 473.55,138.06 474.1,133.6 474.65,131.03 475.2,128.38 475.75,125.25 476.3,125.03 476.85,122.11 477.4,118.33 477.95,116.02 478.5,109.26 479.05,103.65 479.6,109.53 480.15,101.44 480.7,104.88 481.25,101.4 481.8,97.3 482.35,93.74 482.9,94.36 483.45,99.24 484.0,82.92 484.55,89.65 485.1,90.63 485.65,83.77 486.2,89.77 486.75,94.02 487.3,85.74 487.85,87.81 488.4,95.87 488.95,91.41 489.5,96.99 490.05,106.89 490.6,100.42 491.15,110.29 491.7,119.36 492.25,119.25 492.8,124.85 493.35,127.51 493.9,136.75 494.45,136.35 495.0,140.57 495.55,144.62 496.1,148.04 496.65,150.36 497.2,153.56 497.75,156.26 498.3,158.71 498.85,159.42 499.4,160.95 499.95,162.36 500.5,163.37 501.05,164.06 501.6,165.06 502.15,165.29 502.7,165.86 503.25,166.02 503.8,166.23 504.35,166.41 504.9,166.61 505.45,166.72 506.0,166.8 506.55,166.85 507.1,166.9 507.65,166.93 508.2,166.95 508.75,166.97 509.3,166.98 509.85,166.98 510.4,166.99 510.95,166.99 511.5,167.0 512.05,167.0 512.6,167.0 513.15,167.0 513.7,167.0 514.25,167.0 514.8,167.0 515.35,167.0 515.9,167.0 516.45,167.0 517.0,167.0 517.55,167.0 518.1,167.0 518.65,167.0 519.2,167.0 519.75,167.0 519.75,167.0" fill="#20c878" stroke="none"/>
<polyline points="458.15,166.39 458.7,166.29 459.25,166.15 459.8,165.89 460.35,165.74 460.9,165.54 461.45,165.04 462.0,164.98 462.55,164.73 463.1,164.36 463.65,163.74 464.2,162.93 464.75,162.22 465.3,161.39 465.85,160.3 466.4,159.35 466.95,158.76 467.5,157.25 468.05,156.36 468.6,155.82 469.15,153.32 469.7,152.33 470.25,150.87 470.8,146.91 471.35,145.9 471.9,145.37 472.45,142.59 473.0,137.3 473.55,138.06 474.1,133.6 474.65,131.03 475.2,128.38 475.75,125.25 476.3,125.03 476.85,122.11 477.4,118.33 477.95,116.02 478.5,109.26 479.05,103.65 479.6,109.53 480.15,101.44 480.7,104.88 481.25,101.4 481.8,97.3 482.35,93.74 482.9,94.36 483.45,99.24 484.0,82.92 484.55,89.65 485.1,90.63 485.65,83.77 486.2,89.77 486.75,94.02 487.3,85.74 487.85,87.81 488.4,95.87 488.95,91.41 489.5,96.99 490.05,106.89 490.6,100.42 491.15,110.29 491.7,119.36 492.25,119.25 492.8,124.85 493.35,127.51 493.9,136.75 494.45,136.35 495.0,140.57 495.55,144.62 496.1,148.04 496.65,150.36 497.2,153.56 497.75,156.26 498.3,158.71 498.85,159.42 499.4,160.95 499.95,162.36 500.5,163.37 501.05,164.06 501.6,165.06 502.15,165.29 502.7,165.86 503.25,166.02 503.8,166.23 504.35,166.41" fill="none" stroke="#0d4d0d" stroke-width="0.5" stroke-linejoin="round"/>
<polygon points="440,167.0 440,166.34 440.55,166.1 441.1,166.03 441.65,165.89 442.2,165.46 442.75,165.09 443.3,164.72 443.85,164.24 444.4,163.82 444.95,163.32 445.5,162.68 446.05,161.73 446.6,160.87 447.15,159.26 447.7,158.16 448.25,157.87 448.8,155.15 449.35,153.98 449.9,151.12 450.45,148.57 451.0,147.24 451.55,147.78 452.1,141.96 452.65,142.66 453.2,134.4 453.75,135.4 454.3,131.26 454.85,123.47 455.4,128.52 455.95,120.28 456.5,119.96 457.05,114.71 457.6,112.11 458.15,103.18 458.7,103.32 459.25,97.26 459.8,92.63 460.35,100.01 460.9,82.9 461.45,88.03 462.0,92.8 462.55,85.96 463.1,76.48 463.65,74.52 464.2,81.36 464.75,73.24 465.3,72.85 465.85,72.61 466.4,80.66 466.95,76.17 467.5,87.5 468.05,88.62 468.6,84.26 469.15,86.84 469.7,93.43 470.25,93.88 470.8,99.05 471.35,100.52 471.9,102.95 472.45,109.16 473.0,112.11 473.55,119.64 474.1,123.72 474.65,130.54 475.2,128.44 475.75,132.71 476.3,135.02 476.85,142.27 477.4,142.73 477.95,145.46 478.5,149.38 479.05,148.57 479.6,150.51 480.15,154.62 480.7,155.01 481.25,155.89 481.8,158.94 482.35,159.1 482.9,160.03 483.45,161.07 484.0,162.82 484.55,163.42 484.55,167.0" fill="#f25a5a" stroke="none"/>
<polyline points="440,166.34 440.55,166.1 441.1,166.03 441.65,165.89 442.2,165.46 442.75,165.09 443.3,164.72 443.85,164.24 444.4,163.82 444.95,163.32 445.5,162.68 446.05,161.73 446.6,160.87 447.15,159.26 447.7,158.16 448.25,157.87 448.8,155.15 449.35,153.98 449.9,151.12 450.45,148.57 451.0,147.24 451.55,147.78 452.1,141.96 452.65,142.66 453.2,134.4 453.75,135.4 454.3,131.26 454.85,123.47 455.4,128.52 455.95,120.28 456.5,119.96 457.05,114.71 457.6,112.11 458.15,103.18 458.7,103.32 459.25,97.26 459.8,92.63 460.35,100.01 460.9,82.9 461.45,88.03 462.0,92.8 462.55,85.96 463.1,76.48 463.65,74.52 464.2,81.36 464.75,73.24 465.3,72.85 465.85,72.61 466.4,80.66 466.95,76.17 467.5,87.5 468.05,88.62 468.6,84.26 469.15,86.84 469.7,93.43 470.25,93.88 470.8,99.05 471.35,100.52 471.9,102.95 472.45,109.16 473.0,112.11 473.55,119.64 474.1,123.72 474.65,130.54 475.2,128.44 475.75,132.71 476.3,135.02 476.85,142.27 477.4,142.73 477.95,145.46 478.5,149.38 479.05,148.57 479.6,150.51 480.15,154.62 480.7,155.01 481.25,155.89 481.8,158.94 482.35,159.1 482.9,160.03 483.45,161.07 484.0,162.82 484.55,163.42" fill="none" stroke="#5a0a0a" stroke-width="0.8" stroke-linejoin="round"/>
<polygon points="440,167.0 440,163.89 440.55,163.67 441.1,163.87 441.65,163.7 442.2,163.02 442.75,162.48 443.3,162.38 443.85,162.41 444.4,161.76 444.95,160.7 445.5,161.3 446.05,159.93 446.6,159.66 447.15,159.19 447.7,158.54 448.25,158.68 448.8,157.93 449.35,156.26 449.9,156.98 450.45,156.43 451.0,156.51 451.55,155.27 452.1,153.73 452.65,152.65 453.2,152.45 453.75,151.77 454.3,151.11 454.85,150.64 455.4,149.27 455.95,149.73 456.5,147.71 457.05,148.25 457.6,149.33 458.15,148.31 458.7,146.3 459.25,145.94 459.8,146.26 460.35,144.98 460.9,142.96 461.45,141.91 462.0,140.49 462.55,142.36 463.1,139.66 463.65,137.78 464.2,138.05 464.75,134.72 465.3,137.72 465.85,135.91 466.4,134.51 466.95,134.52 467.5,132.6 468.05,130.67 468.6,129.79 469.15,129.29 469.7,127.49 470.25,124.75 470.8,126.62 471.35,119.99 471.9,121.45 472.45,116.74 473.0,117.02 473.55,110.76 474.1,109.82 474.65,106.82 475.2,106.01 475.75,100.11 476.3,91.45 476.85,102.99 477.4,90.67 477.95,89.59 478.5,90.26 479.05,92.61 479.6,77.34 480.15,82.72 480.7,77.69 481.25,83.9 481.8,85.64 482.35,76.59 482.9,78.93 483.45,85.22 484.0,86.76 484.55,85.62 485.1,95.49 485.65,99.54 486.2,100.83 486.75,102.02 487.3,108.05 487.85,115.67 488.4,117.99 488.95,127.16 489.5,132.83 490.05,133.25 490.6,141.66 491.15,144.1 491.7,147.84 492.25,151.48 492.8,154.16 493.35,156.26 493.9,158.39 494.45,160.55 495.0,161.7 495.55,162.48 496.1,163.58 496.65,164.51 497.2,165.01 497.75,165.55 498.3,165.9 498.85,166.11 499.4,166.22 499.95,166.47 499.95,167.0" fill="#48ee48" stroke="none"/>
<polyline points="440,163.89 440.55,163.67 441.1,163.87 441.65,163.7 442.2,163.02 442.75,162.48 443.3,162.38 443.85,162.41 444.4,161.76 444.95,160.7 445.5,161.3 446.05,159.93 446.6,159.66 447.15,159.19 447.7,158.54 448.25,158.68 448.8,157.93 449.35,156.26 449.9,156.98 450.45,156.43 451.0,156.51 451.55,155.27 452.1,153.73 452.65,152.65 453.2,152.45 453.75,151.77 454.3,151.11 454.85,150.64 455.4,149.27 455.95,149.73 456.5,147.71 457.05,148.25 457.6,149.33 458.15,148.31 458.7,146.3 459.25,145.94 459.8,146.26 460.35,144.98 460.9,142.96 461.45,141.91 462.0,140.49 462.55,142.36 463.1,139.66 463.65,137.78 464.2,138.05 464.75,134.72 465.3,137.72 465.85,135.91 466.4,134.51 466.95,134.52 467.5,132.6 468.05,130.67 468.6,129.79 469.15,129.29 469.7,127.49 470.25,124.75 470.8,126.62 471.35,119.99 471.9,121.45 472.45,116.74 473.0,117.02 473.55,110.76 474.1,109.82 474.65,106.82 475.2,106.01 475.75,100.11 476.3,91.45 476.85,102.99 477.4,90.67 477.95,89.59 478.5,90.26 479.05,92.61 479.6,77.34 480.15,82.72 480.7,77.69 481.25,83.9 481.8,85.64 482.35,76.59 482.9,78.93 483.45,85.22 484.0,86.76 484.55,85.62 485.1,95.49 485.65,99.54 486.2,100.83 486.75,102.02 487.3,108.05 487.85,115.67 488.4,117.99 488.95,127.16 489.5,132.83 490.05,133.25 490.6,141.66 491.15,144.1 491.7,147.84 492.25,151.48 492.8,154.16 493.35,156.26 493.9,158.39 494.45,160.55 495.0,161.7 495.55,162.48 496.1,163.58 496.65,164.51 497.2,165.01 497.75,165.55 498.3,165.9 498.85,166.11 499.4,166.22" fill="none" stroke="#0d4d0d" stroke-width="0.5" stroke-linejoin="round"/>
<polygon points="436,167.0 436,165.86 436.55,165.78 437.1,165.67 437.65,165.62 438.2,165.38 438.75,165.27 439.3,164.91 439.85,165.16 440.4,164.38 440.95,165.03 441.5,164.38 442.05,163.93 442.6,164.02 443.15,163.98 443.7,163.49 444.25,162.93 444.8,162.4 445.35,163.31 445.9,162.2 446.45,162.31 447.0,161.05 447.55,161.57 448.1,160.79 448.65,159.75 449.2,160.29 449.75,159.46 450.3,159.83 450.85,158.98 451.4,159.76 451.95,158.57 452.5,157.74 453.05,157.42 453.6,154.04 454.15,157.51 454.7,157.02 455.25,154.02 455.8,152.84 456.35,152.84 456.9,150.64 457.45,148.82 458.0,151.85 458.55,152.7 459.1,149.97 459.65,146.72 460.2,147.41 460.75,147.93 461.3,146.14 461.85,145.44 462.4,149.08 462.95,143.57 463.5,145.91 464.05,143.79 464.6,143.81 465.15,141.56 465.7,138.53 466.25,140.96 466.8,139.27 467.35,136.42 467.9,137.06 468.45,139.88 469.0,134.75 469.55,137.99 470.1,137.03 470.65,134.93 471.2,130.1 471.75,137.63 472.3,135.63 472.85,133.37 473.4,136.55 473.95,132.81 474.5,128.47 475.05,138.67 475.6,132.41 476.15,134.96 476.7,125.67 477.25,129.98 477.8,129.92 478.35,132.58 478.9,136.01 479.45,132.22 480.0,131.54 480.55,133.13 481.1,127.53 481.65,131.72 482.2,138.07 482.75,137.09 483.3,135.75 483.85,141.3 484.4,139.14 484.95,141.38 485.5,140.17 486.05,141.41 486.6,144.47 487.15,140.98 487.7,146.52 488.25,144.9 488.8,149.64 489.35,150.5 489.9,150.92 490.45,151.6 491.0,150.72 491.55,155.24 492.1,151.84 492.65,156.56 493.2,154.29 493.75,156.69 494.3,158.22 494.85,157.81 495.4,159.69 495.95,160.03 496.5,160.64 497.05,160.24 497.6,162.41 498.15,161.55 498.7,163.02 499.25,163.62 499.8,163.92 500.35,163.75 500.9,164.52 501.45,164.95 502.0,164.91 502.55,165.24 503.1,165.34 503.65,165.85 504.2,165.7 504.75,165.9 505.3,166.22 505.85,166.3 506.4,166.35 506.95,166.49 507.5,166.55 508.05,166.62 508.6,166.67 509.15,166.73 509.7,166.77 510.25,166.81 510.8,166.84 511.35,166.86 511.9,166.89 511.9,167.0" fill="#3fa82a" stroke="none"/>
<polyline points="436,165.86 436.55,165.78 437.1,165.67 437.65,165.62 438.2,165.38 438.75,165.27 439.3,164.91 439.85,165.16 440.4,164.38 440.95,165.03 441.5,164.38 442.05,163.93 442.6,164.02 443.15,163.98 443.7,163.49 444.25,162.93 444.8,162.4 445.35,163.31 445.9,162.2 446.45,162.31 447.0,161.05 447.55,161.57 448.1,160.79 448.65,159.75 449.2,160.29 449.75,159.46 450.3,159.83 450.85,158.98 451.4,159.76 451.95,158.57 452.5,157.74 453.05,157.42 453.6,154.04 454.15,157.51 454.7,157.02 455.25,154.02 455.8,152.84 456.35,152.84 456.9,150.64 457.45,148.82 458.0,151.85 458.55,152.7 459.1,149.97 459.65,146.72 460.2,147.41 460.75,147.93 461.3,146.14 461.85,145.44 462.4,149.08 462.95,143.57 463.5,145.91 464.05,143.79 464.6,143.81 465.15,141.56 465.7,138.53 466.25,140.96 466.8,139.27 467.35,136.42 467.9,137.06 468.45,139.88 469.0,134.75 469.55,137.99 470.1,137.03 470.65,134.93 471.2,130.1 471.75,137.63 472.3,135.63 472.85,133.37 473.4,136.55 473.95,132.81 474.5,128.47 475.05,138.67 475.6,132.41 476.15,134.96 476.7,125.67 477.25,129.98 477.8,129.92 478.35,132.58 478.9,136.01 479.45,132.22 480.0,131.54 480.55,133.13 481.1,127.53 481.65,131.72 482.2,138.07 482.75,137.09 483.3,135.75 483.85,141.3 484.4,139.14 484.95,141.38 485.5,140.17 486.05,141.41 486.6,144.47 487.15,140.98 487.7,146.52 488.25,144.9 488.8,149.64 489.35,150.5 489.9,150.92 490.45,151.6 491.0,150.72 491.55,155.24 492.1,151.84 492.65,156.56 493.2,154.29 493.75,156.69 494.3,158.22 494.85,157.81 495.4,159.69 495.95,160.03 496.5,160.64 497.05,160.24 497.6,162.41 498.15,161.55 498.7,163.02 499.25,163.62 499.8,163.92 500.35,163.75 500.9,164.52 501.45,164.95 502.0,164.91 502.55,165.24 503.1,165.34 503.65,165.85 504.2,165.7 504.75,165.9 505.3,166.22 505.85,166.3 506.4,166.35" fill="none" stroke="#2e7a1e" stroke-width="0.5" stroke-linejoin="round"/>
<rect x="415.5" y="179.7" width="135.8" height="137.2" fill="#fff" stroke="#a8a8a8" stroke-width="1"/>
<line x1="415.5" y1="179.7" x2="415.5" y2="316.9" stroke="#555" stroke-width="0.9"/>
<line x1="415.5" y1="316.9" x2="551.3" y2="316.9" stroke="#555" stroke-width="0.9"/>
<line x1="412.5" y1="316.9" x2="415.5" y2="316.9" stroke="#444" stroke-width="0.8"/>
<text x="411.9" y="318.9" font-size="5.9" text-anchor="end" fill="#222" stroke="#222" stroke-width="0.08">0</text>
<line x1="413.9" y1="301.56" x2="415.5" y2="301.56" stroke="#444" stroke-width="0.8"/>
<line x1="412.5" y1="286.21999999999997" x2="415.5" y2="286.21999999999997" stroke="#444" stroke-width="0.8"/>
<text x="411.9" y="288.21999999999997" font-size="5.9" text-anchor="end" fill="#222" stroke="#222" stroke-width="0.08">20</text>
<line x1="413.9" y1="270.88" x2="415.5" y2="270.88" stroke="#444" stroke-width="0.8"/>
<line x1="412.5" y1="255.53999999999996" x2="415.5" y2="255.53999999999996" stroke="#444" stroke-width="0.8"/>
<text x="411.9" y="257.53999999999996" font-size="5.9" text-anchor="end" fill="#222" stroke="#222" stroke-width="0.08">40</text>
<line x1="413.9" y1="240.2" x2="415.5" y2="240.2" stroke="#444" stroke-width="0.8"/>
<line x1="412.5" y1="224.85999999999996" x2="415.5" y2="224.85999999999996" stroke="#444" stroke-width="0.8"/>
<text x="411.9" y="226.85999999999996" font-size="5.9" text-anchor="end" fill="#222" stroke="#222" stroke-width="0.08">60</text>
<line x1="413.9" y1="209.51999999999998" x2="415.5" y2="209.51999999999998" stroke="#444" stroke-width="0.8"/>
<line x1="412.5" y1="194.17999999999998" x2="415.5" y2="194.17999999999998" stroke="#444" stroke-width="0.8"/>
<text x="411.9" y="196.17999999999998" font-size="5.9" text-anchor="end" fill="#222" stroke="#222" stroke-width="0.08">80</text>
<line x1="448.8" y1="316.9" x2="448.8" y2="319.5" stroke="#444" stroke-width="0.8"/>
<text x="448.8" y="325.29999999999995" font-size="5.605" text-anchor="middle" fill="#333" stroke="#333" stroke-width="0.08">10<tspan font-size="3.7" dy="-2">3</tspan></text>
<line x1="458.9447108538762" y1="316.9" x2="458.9447108538762" y2="318.29999999999995" stroke="#666" stroke-width="0.6"/>
<line x1="464.87898628405264" y1="316.9" x2="464.87898628405264" y2="318.29999999999995" stroke="#666" stroke-width="0.6"/>
<line x1="469.0894217077523" y1="316.9" x2="469.0894217077523" y2="318.29999999999995" stroke="#666" stroke-width="0.6"/>
<line x1="472.3552891461238" y1="316.9" x2="472.3552891461238" y2="318.29999999999995" stroke="#666" stroke-width="0.6"/>
<line x1="475.0236971379288" y1="316.9" x2="475.0236971379288" y2="318.29999999999995" stroke="#666" stroke-width="0.6"/>
<line x1="477.27980394848043" y1="316.9" x2="477.27980394848043" y2="318.29999999999995" stroke="#666" stroke-width="0.6"/>
<line x1="479.2341325616285" y1="316.9" x2="479.2341325616285" y2="318.29999999999995" stroke="#666" stroke-width="0.6"/>
<line x1="480.9579725681052" y1="316.9" x2="480.9579725681052" y2="318.29999999999995" stroke="#666" stroke-width="0.6"/>
<line x1="482.5" y1="316.9" x2="482.5" y2="319.5" stroke="#444" stroke-width="0.8"/>
<text x="482.5" y="325.29999999999995" font-size="5.605" text-anchor="middle" fill="#333" stroke="#333" stroke-width="0.08">10<tspan font-size="3.7" dy="-2">4</tspan></text>
<line x1="492.6146078543098" y1="316.9" x2="492.6146078543098" y2="318.29999999999995" stroke="#666" stroke-width="0.6"/>
<line x1="498.5312741585807" y1="316.9" x2="498.5312741585807" y2="318.29999999999995" stroke="#666" stroke-width="0.6"/>
<line x1="502.72921570861956" y1="316.9" x2="502.72921570861956" y2="318.29999999999995" stroke="#666" stroke-width="0.6"/>
<line x1="505.98539214569024" y1="316.9" x2="505.98539214569024" y2="318.29999999999995" stroke="#666" stroke-width="0.6"/>
<line x1="508.64588201289047" y1="316.9" x2="508.64588201289047" y2="318.29999999999995" stroke="#666" stroke-width="0.6"/>
<line x1="510.89529414447907" y1="316.9" x2="510.89529414447907" y2="318.29999999999995" stroke="#666" stroke-width="0.6"/>
<line x1="512.8438235629293" y1="316.9" x2="512.8438235629293" y2="318.29999999999995" stroke="#666" stroke-width="0.6"/>
<line x1="514.5625483171614" y1="316.9" x2="514.5625483171614" y2="318.29999999999995" stroke="#666" stroke-width="0.6"/>
<line x1="516.1" y1="316.9" x2="516.1" y2="319.5" stroke="#444" stroke-width="0.8"/>
<text x="516.1" y="325.29999999999995" font-size="5.605" text-anchor="middle" fill="#333" stroke="#333" stroke-width="0.08">10<tspan font-size="3.7" dy="-2">5</tspan></text>
<line x1="526.154401855177" y1="316.9" x2="526.154401855177" y2="318.29999999999995" stroke="#666" stroke-width="0.6"/>
<line x1="532.0358499076367" y1="316.9" x2="532.0358499076367" y2="318.29999999999995" stroke="#666" stroke-width="0.6"/>
<line x1="536.208803710354" y1="316.9" x2="536.208803710354" y2="318.29999999999995" stroke="#666" stroke-width="0.6"/>
<line x1="539.4455981448231" y1="316.9" x2="539.4455981448231" y2="318.29999999999995" stroke="#666" stroke-width="0.6"/>
<line x1="542.0902517628138" y1="316.9" x2="542.0902517628138" y2="318.29999999999995" stroke="#666" stroke-width="0.6"/>
<line x1="544.3262745364761" y1="316.9" x2="544.3262745364761" y2="318.29999999999995" stroke="#666" stroke-width="0.6"/>
<line x1="546.2632055655309" y1="316.9" x2="546.2632055655309" y2="318.29999999999995" stroke="#666" stroke-width="0.6"/>
<line x1="547.9716998152735" y1="316.9" x2="547.9716998152735" y2="318.29999999999995" stroke="#666" stroke-width="0.6"/>
<line x1="549.5" y1="316.9" x2="549.5" y2="319.5" stroke="#444" stroke-width="0.8"/>
<text x="549.5" y="325.29999999999995" font-size="5.605" text-anchor="middle" fill="#333" stroke="#333" stroke-width="0.08">10<tspan font-size="3.7" dy="-2">6</tspan></text>
<line x1="425.2447108538762" y1="316.9" x2="425.2447108538762" y2="318.29999999999995" stroke="#666" stroke-width="0.6"/>
<line x1="431.17898628405266" y1="316.9" x2="431.17898628405266" y2="318.29999999999995" stroke="#666" stroke-width="0.6"/>
<line x1="435.3894217077524" y1="316.9" x2="435.3894217077524" y2="318.29999999999995" stroke="#666" stroke-width="0.6"/>
<line x1="438.65528914612383" y1="316.9" x2="438.65528914612383" y2="318.29999999999995" stroke="#666" stroke-width="0.6"/>
<line x1="441.3236971379288" y1="316.9" x2="441.3236971379288" y2="318.29999999999995" stroke="#666" stroke-width="0.6"/>
<line x1="443.57980394848045" y1="316.9" x2="443.57980394848045" y2="318.29999999999995" stroke="#666" stroke-width="0.6"/>
<line x1="445.5341325616285" y1="316.9" x2="445.5341325616285" y2="318.29999999999995" stroke="#666" stroke-width="0.6"/>
<line x1="447.2579725681053" y1="316.9" x2="447.2579725681053" y2="318.29999999999995" stroke="#666" stroke-width="0.6"/>
<polygon points="415.6,316.9 415.6,316.36 416.15,316.23 416.7,315.99 417.25,315.68 417.8,315.33 418.35,315.03 418.9,314.64 419.45,314.15 420.0,313.55 420.55,312.94 421.1,312.24 421.65,311.31 422.2,308.89 422.75,307.91 423.3,305.52 423.85,305.31 424.4,301.76 424.95,299.51 425.5,295.87 426.05,293.94 426.6,288.65 427.15,284.62 427.7,279.62 428.25,282.24 428.8,276.66 429.35,264.5 429.9,257.77 430.45,256.52 431.0,254.25 431.55,242.54 432.1,241.21 432.65,235.83 433.2,224.76 433.75,226.37 434.3,231.79 434.85,221.91 435.4,210.14 435.95,216.05 436.5,205.41 437.05,209.45 437.6,195.45 438.15,196.3 438.7,189.09 439.25,204.84 439.8,215.13 440.35,209.28 440.9,216.26 441.45,224.55 442.0,240.66 442.55,243.19 443.1,245.61 443.65,256.92 444.2,269.65 444.75,270.33 445.3,279.71 445.85,287.04 446.4,293.25 446.95,297.58 447.5,301.07 448.05,306.25 448.6,307.95 449.15,310.53 449.7,311.64 450.25,313.12 450.8,314.19 451.35,314.93 451.9,315.42 452.45,315.87 453.0,316.32 453.55,316.48 454.1,316.62 454.65,316.72 455.2,316.78 455.75,316.83 455.75,316.9" fill="url(#gh)" stroke="none"/>
<polyline points="415.6,316.36 416.15,316.23 416.7,315.99 417.25,315.68 417.8,315.33 418.35,315.03 418.9,314.64 419.45,314.15 420.0,313.55 420.55,312.94 421.1,312.24 421.65,311.31 422.2,308.89 422.75,307.91 423.3,305.52 423.85,305.31 424.4,301.76 424.95,299.51 425.5,295.87 426.05,293.94 426.6,288.65 427.15,284.62 427.7,279.62 428.25,282.24 428.8,276.66 429.35,264.5 429.9,257.77 430.45,256.52 431.0,254.25 431.55,242.54 432.1,241.21 432.65,235.83 433.2,224.76 433.75,226.37 434.3,231.79 434.85,221.91 435.4,210.14 435.95,216.05 436.5,205.41 437.05,209.45 437.6,195.45 438.15,196.3 438.7,189.09 439.25,204.84 439.8,215.13 440.35,209.28 440.9,216.26 441.45,224.55 442.0,240.66 442.55,243.19 443.1,245.61 443.65,256.92 444.2,269.65 444.75,270.33 445.3,279.71 445.85,287.04 446.4,293.25 446.95,297.58 447.5,301.07 448.05,306.25 448.6,307.95 449.15,310.53 449.7,311.64 450.25,313.12 450.8,314.19 451.35,314.93 451.9,315.42 452.45,315.87 453.0,316.32" fill="none" stroke="#000" stroke-width="0.9" stroke-linejoin="round"/>
<polygon points="440,316.9 440,316.9 440.55,316.9 441.1,316.9 441.65,316.9 442.2,316.9 442.75,316.9 443.3,316.9 443.85,316.9 444.4,316.9 444.95,316.9 445.5,316.9 446.05,316.9 446.6,316.9 447.15,316.9 447.7,316.9 448.25,316.9 448.8,316.9 449.35,316.9 449.9,316.9 450.45,316.89 451.0,316.89 451.55,316.88 452.1,316.87 452.65,316.86 453.2,316.83 453.75,316.8 454.3,316.75 454.85,316.68 455.4,316.57 455.95,316.41 456.5,316.18 457.05,316.01 457.6,315.67 458.15,315.08 458.7,314.25 459.25,313.6 459.8,312.94 460.35,311.59 460.9,309.75 461.45,307.25 462.0,305.4 462.55,302.89 463.1,299.54 463.65,295.32 464.2,292.38 464.75,286.51 465.3,280.76 465.85,271.77 466.4,270.0 466.95,260.75 467.5,261.2 468.05,248.26 468.6,245.07 469.15,242.76 469.7,235.64 470.25,226.92 470.8,229.91 471.35,218.61 471.9,210.49 472.45,210.96 473.0,215.65 473.55,232.76 474.1,225.44 474.65,232.42 475.2,226.16 475.75,232.96 476.3,234.96 476.85,236.89 477.4,244.83 477.95,245.26 478.5,252.12 479.05,246.22 479.6,258.38 480.15,260.55 480.7,269.88 481.25,272.48 481.8,274.21 482.35,273.73 482.9,277.48 483.45,282.02 484.0,286.99 484.55,285.92 485.1,293.28 485.65,295.58 486.2,296.38 486.75,300.29 487.3,301.12 487.85,302.51 488.4,305.08 488.95,306.35 489.5,307.98 490.05,309.55 490.6,311.07 491.15,311.72 491.7,312.17 492.25,313.3 492.8,313.66 493.35,314.07 493.9,314.39 494.45,315.13 495.0,315.36 495.55,315.58 496.1,315.8 496.65,316.11 497.2,316.13 497.75,316.36 498.3,316.45 498.85,316.54 499.4,316.62 499.95,316.68 500.5,316.72 501.05,316.76 501.6,316.79 502.15,316.82 502.7,316.84 503.25,316.85 503.8,316.86 504.35,316.87 504.9,316.88 505.45,316.88 506.0,316.89 506.55,316.89 507.1,316.89 507.65,316.89 508.2,316.9 508.75,316.9 509.3,316.9 509.85,316.9 510.4,316.9 510.95,316.9 511.5,316.9 512.05,316.9 512.6,316.9 513.15,316.9 513.7,316.9 514.25,316.9 514.8,316.9 515.35,316.9 515.9,316.9 516.45,316.9 517.0,316.9 517.55,316.9 518.1,316.9 518.65,316.9 519.2,316.9 519.75,316.9 520.3,316.9 520.85,316.9 521.4,316.9 521.95,316.9 522.5,316.9 523.05,316.9 523.6,316.9 524.15,316.9 524.7,316.9 524.7,316.9" fill="#5050e8" stroke="none"/>
<polyline points="456.5,316.18 457.05,316.01 457.6,315.67 458.15,315.08 458.7,314.25 459.25,313.6 459.8,312.94 460.35,311.59 460.9,309.75 461.45,307.25 462.0,305.4 462.55,302.89 463.1,299.54 463.65,295.32 464.2,292.38 464.75,286.51 465.3,280.76 465.85,271.77 466.4,270.0 466.95,260.75 467.5,261.2 468.05,248.26 468.6,245.07 469.15,242.76 469.7,235.64 470.25,226.92 470.8,229.91 471.35,218.61 471.9,210.49 472.45,210.96 473.0,215.65 473.55,232.76 474.1,225.44 474.65,232.42 475.2,226.16 475.75,232.96 476.3,234.96 476.85,236.89 477.4,244.83 477.95,245.26 478.5,252.12 479.05,246.22 479.6,258.38 480.15,260.55 480.7,269.88 481.25,272.48 481.8,274.21 482.35,273.73 482.9,277.48 483.45,282.02 484.0,286.99 484.55,285.92 485.1,293.28 485.65,295.58 486.2,296.38 486.75,300.29 487.3,301.12 487.85,302.51 488.4,305.08 488.95,306.35 489.5,307.98 490.05,309.55 490.6,311.07 491.15,311.72 491.7,312.17 492.25,313.3 492.8,313.66 493.35,314.07 493.9,314.39 494.45,315.13 495.0,315.36 495.55,315.58 496.1,315.8 496.65,316.11 497.2,316.13" fill="none" stroke="#0a0a60" stroke-width="0.8" stroke-linejoin="round"/>
<polygon points="465,316.9 465,316.87 465.55,316.86 466.1,316.83 466.65,316.78 467.2,316.7 467.75,316.58 468.3,316.42 468.85,316.22 469.4,315.65 469.95,315.03 470.5,314.38 471.05,313.13 471.6,311.64 472.15,309.9 472.7,307.5 473.25,304.26 473.8,301.97 474.35,299.59 474.9,295.51 475.45,286.34 476.0,280.74 476.55,275.68 477.1,274.37 477.65,263.75 478.2,257.13 478.75,255.67 479.3,250.32 479.85,235.36 480.4,234.44 480.95,236.24 481.5,238.82 482.05,242.9 482.6,243.08 483.15,238.75 483.7,247.32 484.25,245.64 484.8,238.51 485.35,253.67 485.9,253.21 486.45,244.81 487.0,252.53 487.55,255.73 488.1,262.06 488.65,266.57 489.2,259.91 489.75,272.13 490.3,267.97 490.85,273.73 491.4,275.03 491.95,281.69 492.5,277.89 493.05,281.26 493.6,284.47 494.15,286.66 494.7,292.19 495.25,291.71 495.8,293.39 496.35,296.22 496.9,300.04 497.45,299.89 498.0,301.32 498.55,304.0 499.1,304.36 499.65,304.79 500.2,307.01 500.75,307.3 501.3,309.36 501.85,310.33 502.4,310.73 502.95,311.9 503.5,312.76 504.05,312.77 504.6,313.4 504.6,316.9" fill="#48ee48" stroke="none"/>
<polyline points="468.85,316.22 469.4,315.65 469.95,315.03 470.5,314.38 471.05,313.13 471.6,311.64 472.15,309.9 472.7,307.5 473.25,304.26 473.8,301.97 474.35,299.59 474.9,295.51 475.45,286.34 476.0,280.74 476.55,275.68 477.1,274.37 477.65,263.75 478.2,257.13 478.75,255.67 479.3,250.32 479.85,235.36 480.4,234.44 480.95,236.24 481.5,238.82 482.05,242.9 482.6,243.08 483.15,238.75 483.7,247.32 484.25,245.64 484.8,238.51 485.35,253.67 485.9,253.21 486.45,244.81 487.0,252.53 487.55,255.73 488.1,262.06 488.65,266.57 489.2,259.91 489.75,272.13 490.3,267.97 490.85,273.73 491.4,275.03 491.95,281.69 492.5,277.89 493.05,281.26 493.6,284.47 494.15,286.66 494.7,292.19 495.25,291.71 495.8,293.39 496.35,296.22 496.9,300.04 497.45,299.89 498.0,301.32 498.55,304.0 499.1,304.36 499.65,304.79 500.2,307.01 500.75,307.3 501.3,309.36 501.85,310.33 502.4,310.73 502.95,311.9 503.5,312.76 504.05,312.77 504.6,313.4" fill="none" stroke="#0d4d0d" stroke-width="0.5" stroke-linejoin="round"/>
<polygon points="440,316.9 440,316.79 440.55,316.76 441.1,316.74 441.65,316.71 442.2,316.67 442.75,316.63 443.3,316.58 443.85,316.52 444.4,316.45 444.95,316.36 445.5,316.29 446.05,316.1 446.6,316.03 447.15,315.91 447.7,315.74 448.25,315.64 448.8,315.46 449.35,315.11 449.9,314.97 450.45,314.51 451.0,314.34 451.55,314.27 452.1,313.83 452.65,313.31 453.2,313.08 453.75,312.09 454.3,311.57 454.85,310.45 455.4,310.46 455.95,309.41 456.5,308.13 457.05,307.07 457.6,307.16 458.15,304.3 458.7,304.73 459.25,301.92 459.8,301.91 460.35,300.63 460.9,300.1 461.45,297.22 462.0,293.03 462.55,294.51 463.1,289.27 463.65,287.48 464.2,288.43 464.75,283.42 465.3,280.52 465.85,281.88 466.4,280.18 466.95,273.74 467.5,273.25 468.05,266.94 468.6,268.09 469.15,270.59 469.7,264.72 470.25,266.25 470.8,257.11 471.35,254.87 471.9,256.85 472.45,256.64 473.0,247.28 473.55,250.63 474.1,241.77 474.65,249.82 475.2,245.06 475.75,244.9 476.3,246.01 476.85,231.64 477.4,230.75 477.95,241.34 478.5,233.71 479.05,240.85 479.6,222.54 480.15,228.5 480.7,239.25 481.25,239.96 481.8,237.98 482.35,238.26 482.9,243.72 483.45,247.74 484.0,247.05 484.55,250.01 485.1,247.35 485.65,252.89 486.2,255.11 486.75,264.97 487.3,263.19 487.85,266.17 488.4,269.53 488.95,271.33 489.5,274.84 490.05,280.85 490.6,277.77 491.15,280.84 491.7,286.59 492.25,287.1 492.8,292.29 493.35,295.05 493.9,295.7 494.45,295.67 495.0,299.66 495.55,302.88 496.1,302.88 496.65,305.1 497.2,306.58 497.75,307.18 498.3,309.48 498.85,310.43 499.4,311.16 499.95,311.06 500.5,312.16 501.05,313.01 501.6,313.59 502.15,313.83 502.7,314.2 503.25,314.88 503.8,315.09 504.35,315.25 504.9,315.61 505.45,315.89 506.0,316.02 506.55,316.19 507.1,316.29 507.65,316.41 508.2,316.51 508.75,316.59 509.3,316.65 509.85,316.7 510.4,316.74 510.95,316.77 511.5,316.8 512.05,316.82 512.6,316.83 513.15,316.85 513.7,316.86 514.25,316.87 514.8,316.88 514.8,316.9" fill="#20c878" stroke="none"/>
<polyline points="444.95,316.36 445.5,316.29 446.05,316.1 446.6,316.03 447.15,315.91 447.7,315.74 448.25,315.64 448.8,315.46 449.35,315.11 449.9,314.97 450.45,314.51 451.0,314.34 451.55,314.27 452.1,313.83 452.65,313.31 453.2,313.08 453.75,312.09 454.3,311.57 454.85,310.45 455.4,310.46 455.95,309.41 456.5,308.13 457.05,307.07 457.6,307.16 458.15,304.3 458.7,304.73 459.25,301.92 459.8,301.91 460.35,300.63 460.9,300.1 461.45,297.22 462.0,293.03 462.55,294.51 463.1,289.27 463.65,287.48 464.2,288.43 464.75,283.42 465.3,280.52 465.85,281.88 466.4,280.18 466.95,273.74 467.5,273.25 468.05,266.94 468.6,268.09 469.15,270.59 469.7,264.72 470.25,266.25 470.8,257.11 471.35,254.87 471.9,256.85 472.45,256.64 473.0,247.28 473.55,250.63 474.1,241.77 474.65,249.82 475.2,245.06 475.75,244.9 476.3,246.01 476.85,231.64 477.4,230.75 477.95,241.34 478.5,233.71 479.05,240.85 479.6,222.54 480.15,228.5 480.7,239.25 481.25,239.96 481.8,237.98 482.35,238.26 482.9,243.72 483.45,247.74 484.0,247.05 484.55,250.01 485.1,247.35 485.65,252.89 486.2,255.11 486.75,264.97 487.3,263.19 487.85,266.17 488.4,269.53 488.95,271.33 489.5,274.84 490.05,280.85 490.6,277.77 491.15,280.84 491.7,286.59 492.25,287.1 492.8,292.29 493.35,295.05 493.9,295.7 494.45,295.67 495.0,299.66 495.55,302.88 496.1,302.88 496.65,305.1 497.2,306.58 497.75,307.18 498.3,309.48 498.85,310.43 499.4,311.16 499.95,311.06 500.5,312.16 501.05,313.01 501.6,313.59 502.15,313.83 502.7,314.2 503.25,314.88 503.8,315.09 504.35,315.25 504.9,315.61 505.45,315.89 506.0,316.02 506.55,316.19 507.1,316.29" fill="none" stroke="#0d4d0d" stroke-width="0.5" stroke-linejoin="round"/>
<polygon points="440,316.9 440,316.33 440.55,316.24 441.1,315.91 441.65,315.61 442.2,315.24 442.75,314.66 443.3,313.95 443.85,312.97 444.4,311.69 444.95,310.02 445.5,308.61 446.05,306.0 446.6,303.91 447.15,301.3 447.7,298.32 448.25,295.58 448.8,292.5 449.35,285.25 449.9,280.12 450.45,273.08 451.0,266.66 451.55,265.19 452.1,256.71 452.65,251.59 453.2,235.13 453.75,233.21 454.3,225.1 454.85,224.53 455.4,221.18 455.95,211.86 456.5,204.34 457.05,196.97 457.6,207.62 458.15,188.09 458.7,195.1 459.25,198.76 459.8,201.86 460.35,205.78 460.9,204.18 461.45,206.94 462.0,216.35 462.55,227.84 463.1,229.72 463.65,237.32 464.2,242.76 464.75,252.62 465.3,266.1 465.85,269.72 466.4,274.91 466.95,277.79 467.5,285.52 468.05,288.73 468.6,294.16 469.15,299.7 469.7,301.68 470.25,304.18 470.8,306.76 471.35,309.72 471.9,310.54 472.45,312.23 473.0,313.55 473.55,314.14 474.1,314.96 474.65,315.4 475.2,315.6 475.75,315.92 476.3,316.22 476.85,316.43 477.4,316.57 477.95,316.67 478.5,316.74 479.05,316.79 479.6,316.82 479.6,316.9" fill="#f25a5a" stroke="none"/>
<polyline points="440,316.33 440.55,316.24 441.1,315.91 441.65,315.61 442.2,315.24 442.75,314.66 443.3,313.95 443.85,312.97 444.4,311.69 444.95,310.02 445.5,308.61 446.05,306.0 446.6,303.91 447.15,301.3 447.7,298.32 448.25,295.58 448.8,292.5 449.35,285.25 449.9,280.12 450.45,273.08 451.0,266.66 451.55,265.19 452.1,256.71 452.65,251.59 453.2,235.13 453.75,233.21 454.3,225.1 454.85,224.53 455.4,221.18 455.95,211.86 456.5,204.34 457.05,196.97 457.6,207.62 458.15,188.09 458.7,195.1 459.25,198.76 459.8,201.86 460.35,205.78 460.9,204.18 461.45,206.94 462.0,216.35 462.55,227.84 463.1,229.72 463.65,237.32 464.2,242.76 464.75,252.62 465.3,266.1 465.85,269.72 466.4,274.91 466.95,277.79 467.5,285.52 468.05,288.73 468.6,294.16 469.15,299.7 469.7,301.68 470.25,304.18 470.8,306.76 471.35,309.72 471.9,310.54 472.45,312.23 473.0,313.55 473.55,314.14 474.1,314.96 474.65,315.4 475.2,315.6 475.75,315.92 476.3,316.22" fill="none" stroke="#5a0a0a" stroke-width="0.8" stroke-linejoin="round"/>
<polygon points="439,316.9 439,315.97 439.55,315.42 440.1,315.38 440.65,315.33 441.2,314.83 441.75,314.98 442.3,314.05 442.85,314.0 443.4,313.84 443.95,313.16 444.5,313.5 445.05,312.34 445.6,311.59 446.15,311.01 446.7,310.66 447.25,311.06 447.8,309.44 448.35,310.06 448.9,307.98 449.45,307.95 450.0,307.28 450.55,304.64 451.1,302.45 451.65,301.47 452.2,302.99 452.75,301.98 453.3,301.77 453.85,299.99 454.4,297.41 454.95,295.42 455.5,296.03 456.05,293.67 456.6,295.23 457.15,292.34 457.7,285.88 458.25,284.18 458.8,285.18 459.35,285.09 459.9,283.27 460.45,285.07 461.0,285.59 461.55,278.16 462.1,283.16 462.65,276.15 463.2,281.45 463.75,275.97 464.3,267.66 464.85,271.25 465.4,273.56 465.95,271.26 466.5,278.96 467.05,267.07 467.6,274.73 468.15,274.69 468.7,274.11 469.25,270.44 469.8,274.13 470.35,274.04 470.9,269.25 471.45,270.9 472.0,266.64 472.55,269.17 473.1,268.11 473.65,279.04 474.2,274.55 474.75,273.6 475.3,273.11 475.85,278.96 476.4,276.39 476.95,275.77 477.5,284.37 478.05,285.2 478.6,286.2 479.15,283.91 479.7,289.39 480.25,287.14 480.8,289.82 481.35,292.49 481.9,295.7 482.45,287.92 483.0,290.6 483.55,292.46 484.1,299.32 484.65,295.47 485.2,299.02 485.75,301.7 486.3,301.53 486.85,302.38 487.4,300.35 487.95,303.45 488.5,304.64 489.05,304.95 489.6,305.83 490.15,308.37 490.7,306.86 491.25,308.45 491.8,308.55 492.35,308.78 492.9,310.76 493.45,310.09 494.0,311.81 494.55,312.25 495.1,313.36 495.65,312.44 496.2,313.44 496.75,313.9 497.3,314.2 497.85,314.19 498.4,314.36 498.95,314.71 499.5,315.12 500.05,315.39 500.6,315.72 501.15,315.71 501.7,315.72 502.25,315.95 502.8,315.87 503.35,316.06 503.9,316.25 504.45,316.28 505.0,316.38 505.0,316.9" fill="#3fa82a" stroke="none"/>
<polyline points="439,315.97 439.55,315.42 440.1,315.38 440.65,315.33 441.2,314.83 441.75,314.98 442.3,314.05 442.85,314.0 443.4,313.84 443.95,313.16 444.5,313.5 445.05,312.34 445.6,311.59 446.15,311.01 446.7,310.66 447.25,311.06 447.8,309.44 448.35,310.06 448.9,307.98 449.45,307.95 450.0,307.28 450.55,304.64 451.1,302.45 451.65,301.47 452.2,302.99 452.75,301.98 453.3,301.77 453.85,299.99 454.4,297.41 454.95,295.42 455.5,296.03 456.05,293.67 456.6,295.23 457.15,292.34 457.7,285.88 458.25,284.18 458.8,285.18 459.35,285.09 459.9,283.27 460.45,285.07 461.0,285.59 461.55,278.16 462.1,283.16 462.65,276.15 463.2,281.45 463.75,275.97 464.3,267.66 464.85,271.25 465.4,273.56 465.95,271.26 466.5,278.96 467.05,267.07 467.6,274.73 468.15,274.69 468.7,274.11 469.25,270.44 469.8,274.13 470.35,274.04 470.9,269.25 471.45,270.9 472.0,266.64 472.55,269.17 473.1,268.11 473.65,279.04 474.2,274.55 474.75,273.6 475.3,273.11 475.85,278.96 476.4,276.39 476.95,275.77 477.5,284.37 478.05,285.2 478.6,286.2 479.15,283.91 479.7,289.39 480.25,287.14 480.8,289.82 481.35,292.49 481.9,295.7 482.45,287.92 483.0,290.6 483.55,292.46 484.1,299.32 484.65,295.47 485.2,299.02 485.75,301.7 486.3,301.53 486.85,302.38 487.4,300.35 487.95,303.45 488.5,304.64 489.05,304.95 489.6,305.83 490.15,308.37 490.7,306.86 491.25,308.45 491.8,308.55 492.35,308.78 492.9,310.76 493.45,310.09 494.0,311.81 494.55,312.25 495.1,313.36 495.65,312.44 496.2,313.44 496.75,313.9 497.3,314.2 497.85,314.19 498.4,314.36 498.95,314.71 499.5,315.12 500.05,315.39 500.6,315.72 501.15,315.71 501.7,315.72 502.25,315.95 502.8,315.87 503.35,316.06 503.9,316.25 504.45,316.28" fill="none" stroke="#2e7a1e" stroke-width="0.5" stroke-linejoin="round"/>
<line x1="400.2" y1="332" x2="400.2" y2="38" stroke="#111" stroke-width="1.9"/>
<polygon points="396.5,39 403.9,39 400.2,31.6" fill="#111"/>
<line x1="399.3" y1="330.6" x2="545" y2="330.6" stroke="#111" stroke-width="1.9"/>
<polygon points="544,326.9 544,334.3 552.2,330.6" fill="#111"/>
<text x="397.9" y="155.5" font-size="13" text-anchor="middle" textLength="59" lengthAdjust="spacingAndGlyphs" transform="rotate(-90 397.9 155.5)" fill="#000" stroke="#000" stroke-width="0.08">cells (x10<tspan font-size="8" dy="-5">3</tspan><tspan dy="5">)</tspan></text>
<text x="471.7" y="349.5" font-size="10.2" text-anchor="middle" textLength="67.8" lengthAdjust="spacingAndGlyphs" fill="#000" stroke="#000" stroke-width="0.08">pY694-STAT5</text>
<rect x="567.4" y="138.9" width="12.6" height="12.1" fill="#5656c0" stroke="#000" stroke-width="1.3"/>
<rect x="567.4" y="166.9" width="12.6" height="11.3" fill="#5bd65b" stroke="#000" stroke-width="1.3"/>
<rect x="567.4" y="194.1" width="12.6" height="11.7" fill="#e06060" stroke="#000" stroke-width="1.3"/>
<rect x="567.4" y="221.7" width="12.6" height="12.1" fill="#808080" stroke="#000" stroke-width="1.3"/>
<text x="587.0" y="149.6" font-size="11.4" font-weight="bold" textLength="40.3" lengthAdjust="spacingAndGlyphs" fill="#5050c0">C+TPO</text>
<text x="587.0" y="177.0" font-size="11.4" font-weight="bold" textLength="96.6" lengthAdjust="spacingAndGlyphs" fill="#55d055">4OH-TAM + MMS</text>
<text x="587.0" y="204.4" font-size="11.4" font-weight="bold" textLength="55.0" lengthAdjust="spacingAndGlyphs" fill="#e05858">4OH-TAM</text>
<text x="587.0" y="231.8" font-size="11.4" textLength="49.7" lengthAdjust="spacingAndGlyphs" fill="#000" stroke="#000" stroke-width="0.08">C isotype</text>
<rect x="71.3" y="454.3" width="124.2" height="138.6" fill="#fff" stroke="#a8a8a8" stroke-width="1"/>
<line x1="71.3" y1="454.3" x2="71.3" y2="592.9" stroke="#555" stroke-width="0.9"/>
<line x1="71.3" y1="592.9" x2="195.5" y2="592.9" stroke="#555" stroke-width="0.9"/>
<line x1="68.3" y1="592.9" x2="71.3" y2="592.9" stroke="#444" stroke-width="0.8"/>
<text x="67.7" y="594.9" font-size="5.9" text-anchor="end" fill="#222" stroke="#222" stroke-width="0.08">0</text>
<line x1="69.7" y1="576.7099999999999" x2="71.3" y2="576.7099999999999" stroke="#444" stroke-width="0.8"/>
<line x1="68.3" y1="560.52" x2="71.3" y2="560.52" stroke="#444" stroke-width="0.8"/>
<text x="67.7" y="562.52" font-size="5.9" text-anchor="end" fill="#222" stroke="#222" stroke-width="0.08">20</text>
<line x1="69.7" y1="544.3299999999999" x2="71.3" y2="544.3299999999999" stroke="#444" stroke-width="0.8"/>
<line x1="68.3" y1="528.14" x2="71.3" y2="528.14" stroke="#444" stroke-width="0.8"/>
<text x="67.7" y="530.14" font-size="5.9" text-anchor="end" fill="#222" stroke="#222" stroke-width="0.08">40</text>
<line x1="69.7" y1="511.95" x2="71.3" y2="511.95" stroke="#444" stroke-width="0.8"/>
<line x1="68.3" y1="495.76" x2="71.3" y2="495.76" stroke="#444" stroke-width="0.8"/>
<text x="67.7" y="497.76" font-size="5.9" text-anchor="end" fill="#222" stroke="#222" stroke-width="0.08">60</text>
<line x1="69.7" y1="479.57" x2="71.3" y2="479.57" stroke="#444" stroke-width="0.8"/>
<line x1="68.3" y1="463.38" x2="71.3" y2="463.38" stroke="#444" stroke-width="0.8"/>
<text x="67.7" y="465.38" font-size="5.9" text-anchor="end" fill="#222" stroke="#222" stroke-width="0.08">80</text>
<line x1="101.5" y1="592.9" x2="101.5" y2="595.5" stroke="#444" stroke-width="0.8"/>
<text x="101.5" y="601.3" font-size="5.605" text-anchor="middle" fill="#333" stroke="#333" stroke-width="0.08">10<tspan font-size="3.7" dy="-2">3</tspan></text>
<line x1="110.83192986558342" y1="592.9" x2="110.83192986558342" y2="594.3" stroke="#666" stroke-width="0.6"/>
<line x1="116.29075889630954" y1="592.9" x2="116.29075889630954" y2="594.3" stroke="#666" stroke-width="0.6"/>
<line x1="120.16385973116684" y1="592.9" x2="120.16385973116684" y2="594.3" stroke="#666" stroke-width="0.6"/>
<line x1="123.16807013441658" y1="592.9" x2="123.16807013441658" y2="594.3" stroke="#666" stroke-width="0.6"/>
<line x1="125.62268876189296" y1="592.9" x2="125.62268876189296" y2="594.3" stroke="#666" stroke-width="0.6"/>
<line x1="127.69803924044196" y1="592.9" x2="127.69803924044196" y2="594.3" stroke="#666" stroke-width="0.6"/>
<line x1="129.49578959675026" y1="592.9" x2="129.49578959675026" y2="594.3" stroke="#666" stroke-width="0.6"/>
<line x1="131.08151779261908" y1="592.9" x2="131.08151779261908" y2="594.3" stroke="#666" stroke-width="0.6"/>
<line x1="132.5" y1="592.9" x2="132.5" y2="595.5" stroke="#444" stroke-width="0.8"/>
<text x="132.5" y="601.3" font-size="5.605" text-anchor="middle" fill="#333" stroke="#333" stroke-width="0.08">10<tspan font-size="3.7" dy="-2">4</tspan></text>
<line x1="141.9824448634154" y1="592.9" x2="141.9824448634154" y2="594.3" stroke="#666" stroke-width="0.6"/>
<line x1="147.52931952366936" y1="592.9" x2="147.52931952366936" y2="594.3" stroke="#666" stroke-width="0.6"/>
<line x1="151.46488972683082" y1="592.9" x2="151.46488972683082" y2="594.3" stroke="#666" stroke-width="0.6"/>
<line x1="154.5175551365846" y1="592.9" x2="154.5175551365846" y2="594.3" stroke="#666" stroke-width="0.6"/>
<line x1="157.01176438708478" y1="592.9" x2="157.01176438708478" y2="594.3" stroke="#666" stroke-width="0.6"/>
<line x1="159.1205882604491" y1="592.9" x2="159.1205882604491" y2="594.3" stroke="#666" stroke-width="0.6"/>
<line x1="160.94733459024621" y1="592.9" x2="160.94733459024621" y2="594.3" stroke="#666" stroke-width="0.6"/>
<line x1="162.55863904733874" y1="592.9" x2="162.55863904733874" y2="594.3" stroke="#666" stroke-width="0.6"/>
<line x1="164.0" y1="592.9" x2="164.0" y2="595.5" stroke="#444" stroke-width="0.8"/>
<text x="164.0" y="601.3" font-size="5.605" text-anchor="middle" fill="#333" stroke="#333" stroke-width="0.08">10<tspan font-size="3.7" dy="-2">5</tspan></text>
<line x1="173.33192986558342" y1="592.9" x2="173.33192986558342" y2="594.3" stroke="#666" stroke-width="0.6"/>
<line x1="178.79075889630954" y1="592.9" x2="178.79075889630954" y2="594.3" stroke="#666" stroke-width="0.6"/>
<line x1="182.66385973116684" y1="592.9" x2="182.66385973116684" y2="594.3" stroke="#666" stroke-width="0.6"/>
<line x1="185.66807013441658" y1="592.9" x2="185.66807013441658" y2="594.3" stroke="#666" stroke-width="0.6"/>
<line x1="188.12268876189296" y1="592.9" x2="188.12268876189296" y2="594.3" stroke="#666" stroke-width="0.6"/>
<line x1="190.19803924044197" y1="592.9" x2="190.19803924044197" y2="594.3" stroke="#666" stroke-width="0.6"/>
<line x1="191.99578959675026" y1="592.9" x2="191.99578959675026" y2="594.3" stroke="#666" stroke-width="0.6"/>
<line x1="193.58151779261908" y1="592.9" x2="193.58151779261908" y2="594.3" stroke="#666" stroke-width="0.6"/>
<line x1="195.0" y1="592.9" x2="195.0" y2="595.5" stroke="#444" stroke-width="0.8"/>
<text x="195.0" y="601.3" font-size="5.605" text-anchor="middle" fill="#333" stroke="#333" stroke-width="0.08">10<tspan font-size="3.7" dy="-2">6</tspan></text>
<line x1="79.83192986558342" y1="592.9" x2="79.83192986558342" y2="594.3" stroke="#666" stroke-width="0.6"/>
<line x1="85.29075889630954" y1="592.9" x2="85.29075889630954" y2="594.3" stroke="#666" stroke-width="0.6"/>
<line x1="89.16385973116684" y1="592.9" x2="89.16385973116684" y2="594.3" stroke="#666" stroke-width="0.6"/>
<line x1="92.16807013441658" y1="592.9" x2="92.16807013441658" y2="594.3" stroke="#666" stroke-width="0.6"/>
<line x1="94.62268876189296" y1="592.9" x2="94.62268876189296" y2="594.3" stroke="#666" stroke-width="0.6"/>
<line x1="96.69803924044196" y1="592.9" x2="96.69803924044196" y2="594.3" stroke="#666" stroke-width="0.6"/>
<line x1="98.49578959675026" y1="592.9" x2="98.49578959675026" y2="594.3" stroke="#666" stroke-width="0.6"/>
<line x1="100.08151779261907" y1="592.9" x2="100.08151779261907" y2="594.3" stroke="#666" stroke-width="0.6"/>
<polygon points="71.4,592.9 71.4,591.64 71.95,590.99 72.5,590.51 73.05,590.3 73.6,589.48 74.15,589.26 74.7,587.5 75.25,586.86 75.8,585.6 76.35,583.32 76.9,583.23 77.45,580.2 78.0,579.52 78.55,576.32 79.1,571.67 79.65,572.64 80.2,568.43 80.75,560.49 81.3,557.64 81.85,556.37 82.4,548.23 82.95,543.23 83.5,540.2 84.05,539.55 84.6,527.68 85.15,518.79 85.7,523.42 86.25,505.4 86.8,505.42 87.35,497.49 87.9,509.19 88.45,484.12 89.0,482.69 89.55,477.43 90.1,490.01 90.65,479.15 91.2,478.68 91.75,468.59 92.3,461.54 92.85,489.62 93.4,475.55 93.95,491.77 94.5,494.06 95.05,495.45 95.6,512.45 96.15,521.6 96.7,525.71 97.25,536.15 97.8,544.18 98.35,550.51 98.9,558.87 99.45,565.03 100.0,570.95 100.55,574.7 101.1,578.66 101.65,583.05 102.2,585.61 102.75,587.53 103.3,588.7 103.85,589.82 104.4,590.88 104.95,591.54 105.5,591.97 106.05,592.29 106.6,592.48 107.15,592.63 107.7,592.73 107.7,592.9" fill="url(#gh2)" stroke="none"/>
<polyline points="71.4,591.64 71.95,590.99 72.5,590.51 73.05,590.3 73.6,589.48 74.15,589.26 74.7,587.5 75.25,586.86 75.8,585.6 76.35,583.32 76.9,583.23 77.45,580.2 78.0,579.52 78.55,576.32 79.1,571.67 79.65,572.64 80.2,568.43 80.75,560.49 81.3,557.64 81.85,556.37 82.4,548.23 82.95,543.23 83.5,540.2 84.05,539.55 84.6,527.68 85.15,518.79 85.7,523.42 86.25,505.4 86.8,505.42 87.35,497.49 87.9,509.19 88.45,484.12 89.0,482.69 89.55,477.43 90.1,490.01 90.65,479.15 91.2,478.68 91.75,468.59 92.3,461.54 92.85,489.62 93.4,475.55 93.95,491.77 94.5,494.06 95.05,495.45 95.6,512.45 96.15,521.6 96.7,525.71 97.25,536.15 97.8,544.18 98.35,550.51 98.9,558.87 99.45,565.03 100.0,570.95 100.55,574.7 101.1,578.66 101.65,583.05 102.2,585.61 102.75,587.53 103.3,588.7 103.85,589.82 104.4,590.88 104.95,591.54 105.5,591.97 106.05,592.29" fill="none" stroke="#000" stroke-width="1.3" stroke-linejoin="round"/>
<polygon points="95,592.9 95,592.9 95.55,592.9 96.1,592.9 96.65,592.9 97.2,592.9 97.75,592.9 98.3,592.9 98.85,592.9 99.4,592.9 99.95,592.9 100.5,592.9 101.05,592.9 101.6,592.9 102.15,592.9 102.7,592.9 103.25,592.9 103.8,592.9 104.35,592.9 104.9,592.89 105.45,592.89 106.0,592.88 106.55,592.87 107.1,592.86 107.65,592.84 108.2,592.81 108.75,592.76 109.3,592.7 109.85,592.6 110.4,592.47 110.95,592.28 111.5,592.05 112.05,591.81 112.6,591.21 113.15,590.7 113.7,589.96 114.25,589.07 114.8,587.48 115.35,586.19 115.9,584.22 116.45,582.98 117.0,580.73 117.55,578.55 118.1,574.61 118.65,573.11 119.2,563.94 119.75,562.0 120.3,557.39 120.85,550.44 121.4,548.69 121.95,541.75 122.5,534.83 123.05,538.85 123.6,521.64 124.15,524.06 124.7,518.68 125.25,523.95 125.8,518.5 126.35,503.12 126.9,515.51 127.45,518.9 128.0,515.75 128.55,512.41 129.1,528.52 129.65,515.72 130.2,523.26 130.75,522.93 131.3,533.42 131.85,530.77 132.4,528.84 132.95,538.2 133.5,543.04 134.05,545.46 134.6,548.81 135.15,548.26 135.7,553.07 136.25,557.8 136.8,557.95 137.35,564.66 137.9,567.84 138.45,565.27 139.0,571.34 139.55,570.65 140.1,575.04 140.65,577.18 141.2,578.34 141.75,581.2 142.3,582.65 142.85,583.59 143.4,584.92 143.95,585.51 144.5,586.19 145.05,588.11 145.6,588.74 146.15,588.99 146.7,589.65 147.25,590.07 147.8,590.8 148.35,591.0 148.9,591.39 149.45,591.79 150.0,591.85 150.55,592.15 151.1,592.2 151.65,592.37 152.2,592.46 152.75,592.55 153.3,592.62 153.85,592.68 154.4,592.73 154.95,592.76 155.5,592.79 156.05,592.82 156.6,592.84 157.15,592.85 157.7,592.86 158.25,592.87 158.8,592.88 159.35,592.88 159.9,592.89 160.45,592.89 161.0,592.89 161.55,592.89 162.1,592.9 162.65,592.9 163.2,592.9 163.75,592.9 164.3,592.9 164.85,592.9 165.4,592.9 165.95,592.9 166.5,592.9 167.05,592.9 167.6,592.9 168.15,592.9 168.7,592.9 169.25,592.9 169.8,592.9 170.35,592.9 170.9,592.9 171.45,592.9 172.0,592.9 172.55,592.9 173.1,592.9 173.65,592.9 174.2,592.9 174.75,592.9 174.75,592.9" fill="#5050e8" stroke="none"/>
<polyline points="110.95,592.28 111.5,592.05 112.05,591.81 112.6,591.21 113.15,590.7 113.7,589.96 114.25,589.07 114.8,587.48 115.35,586.19 115.9,584.22 116.45,582.98 117.0,580.73 117.55,578.55 118.1,574.61 118.65,573.11 119.2,563.94 119.75,562.0 120.3,557.39 120.85,550.44 121.4,548.69 121.95,541.75 122.5,534.83 123.05,538.85 123.6,521.64 124.15,524.06 124.7,518.68 125.25,523.95 125.8,518.5 126.35,503.12 126.9,515.51 127.45,518.9 128.0,515.75 128.55,512.41 129.1,528.52 129.65,515.72 130.2,523.26 130.75,522.93 131.3,533.42 131.85,530.77 132.4,528.84 132.95,538.2 133.5,543.04 134.05,545.46 134.6,548.81 135.15,548.26 135.7,553.07 136.25,557.8 136.8,557.95 137.35,564.66 137.9,567.84 138.45,565.27 139.0,571.34 139.55,570.65 140.1,575.04 140.65,577.18 141.2,578.34 141.75,581.2 142.3,582.65 142.85,583.59 143.4,584.92 143.95,585.51 144.5,586.19 145.05,588.11 145.6,588.74 146.15,588.99 146.7,589.65 147.25,590.07 147.8,590.8 148.35,591.0 148.9,591.39 149.45,591.79 150.0,591.85 150.55,592.15 151.1,592.2" fill="none" stroke="#0a0a60" stroke-width="0.8" stroke-linejoin="round"/>
<polygon points="100,592.9 100,592.9 100.55,592.9 101.1,592.9 101.65,592.9 102.2,592.9 102.75,592.9 103.3,592.9 103.85,592.9 104.4,592.9 104.95,592.89 105.5,592.89 106.05,592.89 106.6,592.88 107.15,592.87 107.7,592.86 108.25,592.85 108.8,592.83 109.35,592.81 109.9,592.77 110.45,592.73 111.0,592.67 111.55,592.6 112.1,592.5 112.65,592.36 113.2,592.2 113.75,592.05 114.3,591.64 114.85,591.59 115.4,591.07 115.95,590.47 116.5,589.91 117.05,589.21 117.6,588.8 118.15,587.0 118.7,586.72 119.25,585.14 119.8,583.6 120.35,581.88 120.9,580.33 121.45,576.26 122.0,575.19 122.55,571.32 123.1,571.88 123.65,565.47 124.2,563.45 124.75,558.63 125.3,555.22 125.85,550.71 126.4,548.12 126.95,543.63 127.5,539.46 128.05,535.22 128.6,532.09 129.15,530.28 129.7,523.75 130.25,526.33 130.8,512.47 131.35,514.2 131.9,509.44 132.45,513.23 133.0,514.78 133.55,519.43 134.1,519.16 134.65,518.88 135.2,518.5 135.75,519.39 136.3,516.07 136.85,528.23 137.4,514.66 137.95,525.21 138.5,525.08 139.05,534.89 139.6,529.11 140.15,537.78 140.7,533.1 141.25,536.44 141.8,539.41 142.35,543.14 142.9,546.05 143.45,548.78 144.0,548.19 144.55,552.94 145.1,555.15 145.65,554.48 146.2,560.46 146.75,564.68 147.3,568.28 147.85,570.22 148.4,569.38 148.95,570.38 149.5,574.65 150.05,576.43 150.6,577.01 151.15,578.25 151.7,579.06 152.25,581.23 152.8,582.79 153.35,583.12 153.9,585.03 154.45,586.15 155.0,586.8 155.55,587.25 156.1,587.96 156.65,588.46 157.2,589.02 157.75,589.16 158.3,589.9 158.85,590.64 159.4,590.91 159.95,591.01 160.5,591.38 161.05,591.38 161.6,591.77 162.15,591.93 162.7,592.06 163.25,592.2 163.8,592.29 164.35,592.41 164.9,592.48 165.45,592.55 166.0,592.61 166.55,592.66 167.1,592.7 167.65,592.74 168.2,592.77 168.75,592.79 169.3,592.81 169.85,592.83 170.4,592.84 170.95,592.85 171.5,592.86 172.05,592.87 172.6,592.88 173.15,592.88 173.7,592.88 174.25,592.89 174.8,592.89 174.8,592.9" fill="#f2f030" stroke="none"/>
<polyline points="113.2,592.2 113.75,592.05 114.3,591.64 114.85,591.59 115.4,591.07 115.95,590.47 116.5,589.91 117.05,589.21 117.6,588.8 118.15,587.0 118.7,586.72 119.25,585.14 119.8,583.6 120.35,581.88 120.9,580.33 121.45,576.26 122.0,575.19 122.55,571.32 123.1,571.88 123.65,565.47 124.2,563.45 124.75,558.63 125.3,555.22 125.85,550.71 126.4,548.12 126.95,543.63 127.5,539.46 128.05,535.22 128.6,532.09 129.15,530.28 129.7,523.75 130.25,526.33 130.8,512.47 131.35,514.2 131.9,509.44 132.45,513.23 133.0,514.78 133.55,519.43 134.1,519.16 134.65,518.88 135.2,518.5 135.75,519.39 136.3,516.07 136.85,528.23 137.4,514.66 137.95,525.21 138.5,525.08 139.05,534.89 139.6,529.11 140.15,537.78 140.7,533.1 141.25,536.44 141.8,539.41 142.35,543.14 142.9,546.05 143.45,548.78 144.0,548.19 144.55,552.94 145.1,555.15 145.65,554.48 146.2,560.46 146.75,564.68 147.3,568.28 147.85,570.22 148.4,569.38 148.95,570.38 149.5,574.65 150.05,576.43 150.6,577.01 151.15,578.25 151.7,579.06 152.25,581.23 152.8,582.79 153.35,583.12 153.9,585.03 154.45,586.15 155.0,586.8 155.55,587.25 156.1,587.96 156.65,588.46 157.2,589.02 157.75,589.16 158.3,589.9 158.85,590.64 159.4,590.91 159.95,591.01 160.5,591.38 161.05,591.38 161.6,591.77 162.15,591.93 162.7,592.06 163.25,592.2 163.8,592.29" fill="none" stroke="#6a6a10" stroke-width="0.5" stroke-linejoin="round"/>
<polygon points="100,592.9 100,592.9 100.55,592.9 101.1,592.89 101.65,592.89 102.2,592.89 102.75,592.88 103.3,592.88 103.85,592.87 104.4,592.86 104.95,592.85 105.5,592.83 106.05,592.8 106.6,592.77 107.15,592.73 107.7,592.67 108.25,592.61 108.8,592.52 109.35,592.45 109.9,592.3 110.45,592.09 111.0,591.94 111.55,591.74 112.1,591.5 112.65,590.9 113.2,590.56 113.75,590.12 114.3,589.58 114.85,589.06 115.4,587.74 115.95,587.12 116.5,585.65 117.05,583.56 117.6,583.06 118.15,581.27 118.7,578.54 119.25,577.45 119.8,574.87 120.35,573.98 120.9,571.17 121.45,569.61 122.0,562.38 122.55,558.52 123.1,558.62 123.65,554.54 124.2,551.76 124.75,542.19 125.3,540.84 125.85,540.77 126.4,534.76 126.95,529.23 127.5,534.76 128.05,525.94 128.6,523.57 129.15,523.89 129.7,519.04 130.25,515.95 130.8,520.2 131.35,521.53 131.9,516.01 132.45,519.7 133.0,519.35 133.55,514.66 134.1,521.88 134.65,525.31 135.2,532.15 135.75,527.66 136.3,530.05 136.85,531.76 137.4,534.65 137.95,537.02 138.5,541.43 139.05,544.67 139.6,546.49 140.15,552.71 140.7,556.19 141.25,558.97 141.8,559.49 142.35,565.64 142.9,565.89 143.45,567.91 144.0,569.62 144.55,573.56 145.1,574.36 145.65,576.37 146.2,578.71 146.75,579.88 147.3,581.6 147.85,583.55 148.4,584.34 148.95,585.71 149.5,585.64 150.05,587.32 150.6,588.23 151.15,589.11 151.7,589.39 152.25,589.86 152.8,590.39 153.35,590.97 153.9,591.26 154.45,591.54 155.0,591.68 155.55,591.96 156.1,592.09 156.65,592.17 157.2,592.42 157.75,592.47 158.3,592.55 158.85,592.62 159.4,592.68 159.95,592.72 160.5,592.76 161.05,592.79 161.6,592.81 162.15,592.83 162.7,592.85 163.25,592.86 163.8,592.87 164.35,592.88 164.9,592.88 165.45,592.89 166.0,592.89 166.55,592.89 167.1,592.89 167.65,592.9 168.2,592.9 168.75,592.9 169.3,592.9 169.85,592.9 169.85,592.9" fill="#b8b44a" stroke="none"/>
<polyline points="109.9,592.3 110.45,592.09 111.0,591.94 111.55,591.74 112.1,591.5 112.65,590.9 113.2,590.56 113.75,590.12 114.3,589.58 114.85,589.06 115.4,587.74 115.95,587.12 116.5,585.65 117.05,583.56 117.6,583.06 118.15,581.27 118.7,578.54 119.25,577.45 119.8,574.87 120.35,573.98 120.9,571.17 121.45,569.61 122.0,562.38 122.55,558.52 123.1,558.62 123.65,554.54 124.2,551.76 124.75,542.19 125.3,540.84 125.85,540.77 126.4,534.76 126.95,529.23 127.5,534.76 128.05,525.94 128.6,523.57 129.15,523.89 129.7,519.04 130.25,515.95 130.8,520.2 131.35,521.53 131.9,516.01 132.45,519.7 133.0,519.35 133.55,514.66 134.1,521.88 134.65,525.31 135.2,532.15 135.75,527.66 136.3,530.05 136.85,531.76 137.4,534.65 137.95,537.02 138.5,541.43 139.05,544.67 139.6,546.49 140.15,552.71 140.7,556.19 141.25,558.97 141.8,559.49 142.35,565.64 142.9,565.89 143.45,567.91 144.0,569.62 144.55,573.56 145.1,574.36 145.65,576.37 146.2,578.71 146.75,579.88 147.3,581.6 147.85,583.55 148.4,584.34 148.95,585.71 149.5,585.64 150.05,587.32 150.6,588.23 151.15,589.11 151.7,589.39 152.25,589.86 152.8,590.39 153.35,590.97 153.9,591.26 154.45,591.54 155.0,591.68 155.55,591.96 156.1,592.09 156.65,592.17" fill="none" stroke="#5a5a20" stroke-width="0.4" stroke-linejoin="round"/>
<polygon points="88,592.9 88,592.75 88.55,592.71 89.1,592.65 89.65,592.57 90.2,592.47 90.75,592.39 91.3,592.2 91.85,591.93 92.4,591.88 92.95,591.4 93.5,591.17 94.05,590.53 94.6,590.19 95.15,589.54 95.7,588.65 96.25,588.04 96.8,586.84 97.35,585.69 97.9,583.48 98.45,582.4 99.0,581.92 99.55,578.34 100.1,576.05 100.65,573.62 101.2,568.94 101.75,565.93 102.3,566.49 102.85,557.58 103.4,557.04 103.95,552.77 104.5,548.48 105.05,542.64 105.6,534.62 106.15,536.39 106.7,527.33 107.25,524.6 107.8,517.41 108.35,513.39 108.9,503.07 109.45,497.06 110.0,502.45 110.55,491.21 111.1,498.7 111.65,484.59 112.2,477.9 112.75,482.06 113.3,464.98 113.85,466.7 114.4,470.12 114.95,470.91 115.5,484.98 116.05,479.59 116.6,487.25 117.15,490.58 117.7,505.34 118.25,505.87 118.8,503.86 119.35,510.49 119.9,517.18 120.45,526.12 121.0,530.09 121.55,537.08 122.1,544.71 122.65,549.15 123.2,555.38 123.75,563.1 124.3,565.9 124.85,569.53 125.4,574.56 125.95,579.07 126.5,580.46 127.05,582.41 127.6,585.4 128.15,586.8 128.7,587.97 129.25,588.32 129.8,589.49 129.8,592.9" fill="#f04848" stroke="none"/>
<polyline points="91.3,592.2 91.85,591.93 92.4,591.88 92.95,591.4 93.5,591.17 94.05,590.53 94.6,590.19 95.15,589.54 95.7,588.65 96.25,588.04 96.8,586.84 97.35,585.69 97.9,583.48 98.45,582.4 99.0,581.92 99.55,578.34 100.1,576.05 100.65,573.62 101.2,568.94 101.75,565.93 102.3,566.49 102.85,557.58 103.4,557.04 103.95,552.77 104.5,548.48 105.05,542.64 105.6,534.62 106.15,536.39 106.7,527.33 107.25,524.6 107.8,517.41 108.35,513.39 108.9,503.07 109.45,497.06 110.0,502.45 110.55,491.21 111.1,498.7 111.65,484.59 112.2,477.9 112.75,482.06 113.3,464.98 113.85,466.7 114.4,470.12 114.95,470.91 115.5,484.98 116.05,479.59 116.6,487.25 117.15,490.58 117.7,505.34 118.25,505.87 118.8,503.86 119.35,510.49 119.9,517.18 120.45,526.12 121.0,530.09 121.55,537.08 122.1,544.71 122.65,549.15 123.2,555.38 123.75,563.1 124.3,565.9 124.85,569.53 125.4,574.56 125.95,579.07 126.5,580.46 127.05,582.41 127.6,585.4 128.15,586.8 128.7,587.97 129.25,588.32 129.8,589.49" fill="none" stroke="#5a0a0a" stroke-width="0.8" stroke-linejoin="round"/>
<polygon points="92,592.9 92,592.76 92.55,592.73 93.1,592.69 93.65,592.65 94.2,592.6 94.75,592.54 95.3,592.46 95.85,592.44 96.4,592.3 96.95,592.16 97.5,592.15 98.05,591.92 98.6,591.51 99.15,591.65 99.7,591.34 100.25,590.97 100.8,591.0 101.35,590.37 101.9,589.74 102.45,589.61 103.0,589.46 103.55,588.54 104.1,588.35 104.65,587.28 105.2,586.68 105.75,586.02 106.3,585.72 106.85,583.24 107.4,583.16 107.95,581.79 108.5,581.12 109.05,580.52 109.6,578.54 110.15,577.69 110.7,576.27 111.25,575.12 111.8,574.67 112.35,572.51 112.9,570.96 113.45,568.3 114.0,570.21 114.55,565.23 115.1,570.17 115.65,567.36 116.2,563.89 116.75,564.3 117.3,560.57 117.85,565.49 118.4,563.86 118.95,563.79 119.5,558.73 120.05,554.09 120.6,561.12 121.15,559.15 121.7,560.46 122.25,555.04 122.8,555.92 123.35,556.11 123.9,560.94 124.45,560.27 125.0,562.24 125.55,563.11 126.1,563.74 126.65,563.4 127.2,569.73 127.75,564.49 128.3,568.83 128.85,567.66 129.4,570.3 129.95,573.86 130.5,575.22 131.05,576.13 131.6,579.95 132.15,579.34 132.7,581.76 133.25,582.89 133.8,584.66 134.35,585.38 134.9,586.81 135.45,587.7 136.0,587.94 136.55,588.49 137.1,589.33 137.65,590.3 138.2,590.49 138.75,590.96 139.3,591.24 139.85,591.59 140.4,591.82 140.95,591.96 141.5,592.18 142.05,592.31 142.6,592.43 143.15,592.53 143.7,592.61 144.25,592.67 144.8,592.72 145.35,592.76 145.9,592.8 146.45,592.82 147.0,592.84 147.55,592.85 148.1,592.87 148.65,592.87 149.2,592.88 149.75,592.89 150.3,592.89 150.85,592.89 151.4,592.89 151.95,592.9 152.5,592.9 153.05,592.9 153.6,592.9 154.15,592.9 154.7,592.9 155.25,592.9 155.8,592.9 156.35,592.9 156.9,592.9 157.45,592.9 158.0,592.9 158.55,592.9 159.1,592.9 159.65,592.9 159.65,592.9" fill="#f0a818" stroke="none"/>
<polyline points="96.4,592.3 96.95,592.16 97.5,592.15 98.05,591.92 98.6,591.51 99.15,591.65 99.7,591.34 100.25,590.97 100.8,591.0 101.35,590.37 101.9,589.74 102.45,589.61 103.0,589.46 103.55,588.54 104.1,588.35 104.65,587.28 105.2,586.68 105.75,586.02 106.3,585.72 106.85,583.24 107.4,583.16 107.95,581.79 108.5,581.12 109.05,580.52 109.6,578.54 110.15,577.69 110.7,576.27 111.25,575.12 111.8,574.67 112.35,572.51 112.9,570.96 113.45,568.3 114.0,570.21 114.55,565.23 115.1,570.17 115.65,567.36 116.2,563.89 116.75,564.3 117.3,560.57 117.85,565.49 118.4,563.86 118.95,563.79 119.5,558.73 120.05,554.09 120.6,561.12 121.15,559.15 121.7,560.46 122.25,555.04 122.8,555.92 123.35,556.11 123.9,560.94 124.45,560.27 125.0,562.24 125.55,563.11 126.1,563.74 126.65,563.4 127.2,569.73 127.75,564.49 128.3,568.83 128.85,567.66 129.4,570.3 129.95,573.86 130.5,575.22 131.05,576.13 131.6,579.95 132.15,579.34 132.7,581.76 133.25,582.89 133.8,584.66 134.35,585.38 134.9,586.81 135.45,587.7 136.0,587.94 136.55,588.49 137.1,589.33 137.65,590.3 138.2,590.49 138.75,590.96 139.3,591.24 139.85,591.59 140.4,591.82 140.95,591.96 141.5,592.18 142.05,592.31" fill="none" stroke="#8a6010" stroke-width="0.4" stroke-linejoin="round"/>
<line x1="99.6" y1="607.5" x2="153" y2="607.5" stroke="#111" stroke-width="1.6"/>
<polygon points="152,603.8 152,611.2 159.5,607.5" fill="#111"/>
<text x="133.2" y="622.5" font-size="9.2" text-anchor="middle" textLength="59.1" lengthAdjust="spacingAndGlyphs" fill="#000" stroke="#000" stroke-width="0.08">pY694-STAT5</text>
<text x="53.5" y="527.0" font-size="10.5" text-anchor="middle" textLength="60.4" lengthAdjust="spacingAndGlyphs" transform="rotate(-90 53.5 527.0)" fill="#000" stroke="#000" stroke-width="0.08">cells (x10<tspan font-size="7" dy="-4">3</tspan><tspan dy="4">)</tspan></text>
<rect x="204.2" y="476.3" width="11.2" height="10.9" fill="#5656c0" stroke="#000" stroke-width="1.3"/>
<rect x="204.2" y="495.8" width="11.2" height="11.1" fill="#c89800" stroke="#000" stroke-width="1.3"/>
<rect x="204.2" y="515.5" width="11.2" height="11.0" fill="#e06868" stroke="#000" stroke-width="1.3"/>
<rect x="204.2" y="535" width="11.2" height="11.5" fill="url(#gh2)" stroke="#000" stroke-width="1.3"/>
<text x="223.9" y="486.1" font-size="11.4" font-weight="bold" textLength="47.3" lengthAdjust="spacingAndGlyphs" fill="#5050c0">C + TPO</text>
<text x="223.9" y="505.8" font-size="11.4" font-weight="bold" textLength="120.7" lengthAdjust="spacingAndGlyphs" fill="#c8960c">4OH-TAM + 8-Br-ATP</text>
<text x="223.9" y="525.4" font-size="11.4" font-weight="bold" textLength="55.0" lengthAdjust="spacingAndGlyphs" fill="#e06060">4OH-TAM</text>
<text x="223.9" y="545.0" font-size="11.4" textLength="49.7" lengthAdjust="spacingAndGlyphs" fill="#000" stroke="#000" stroke-width="0.08">C isotype</text>
<line x1="416.0" y1="411.2" x2="416.0" y2="540.9" stroke="#000" stroke-width="1.3"/>
<line x1="410.2" y1="432.1" x2="416.0" y2="432.1" stroke="#000" stroke-width="1.3"/>
<text x="408.0" y="435.77200000000005" font-size="10.2" text-anchor="end" font-weight="bold" fill="#000">1.5</text>
<line x1="410.2" y1="468.1" x2="416.0" y2="468.1" stroke="#000" stroke-width="1.3"/>
<text x="408.0" y="471.77200000000005" font-size="10.2" text-anchor="end" font-weight="bold" fill="#000">1.0</text>
<line x1="410.2" y1="504.1" x2="416.0" y2="504.1" stroke="#000" stroke-width="1.3"/>
<text x="408.0" y="507.77200000000005" font-size="10.2" text-anchor="end" font-weight="bold" fill="#000">0.5</text>
<line x1="410.2" y1="540.1" x2="416.0" y2="540.1" stroke="#000" stroke-width="1.3"/>
<text x="408.0" y="543.772" font-size="10.2" text-anchor="end" font-weight="bold" fill="#000">0.0</text>
<rect x="423.70000000000005" y="513.5" width="15.3" height="26.6" fill="#0c4e98"/>
<line x1="431.35" y1="513.5" x2="431.35" y2="500.4" stroke="#111" stroke-width="1.0"/>
<line x1="427.20000000000005" y1="500.4" x2="435.5" y2="500.4" stroke="#111" stroke-width="1.0"/>
<rect x="446.95000000000005" y="530.7" width="15.3" height="9.4" fill="#d8d46a"/>
<line x1="454.6" y1="530.7" x2="454.6" y2="522.7" stroke="#111" stroke-width="1.0"/>
<line x1="450.45000000000005" y1="522.7" x2="458.75" y2="522.7" stroke="#111" stroke-width="1.0"/>
<rect x="470.45000000000005" y="469.8" width="15.3" height="70.3" fill="#cf4b4d"/>
<line x1="478.1" y1="469.8" x2="478.1" y2="459.9" stroke="#111" stroke-width="1.0"/>
<line x1="473.95000000000005" y1="459.9" x2="482.25" y2="459.9" stroke="#111" stroke-width="1.0"/>
<rect x="493.55" y="525.2" width="15.3" height="14.9" fill="#8e1208"/>
<line x1="501.2" y1="525.2" x2="501.2" y2="512.3" stroke="#111" stroke-width="1.0"/>
<line x1="497.05" y1="512.3" x2="505.34999999999997" y2="512.3" stroke="#111" stroke-width="1.0"/>
<rect x="517.0500000000001" y="519.1" width="15.3" height="21.0" fill="#fd9500"/>
<line x1="524.7" y1="519.1" x2="524.7" y2="507.1" stroke="#111" stroke-width="1.0"/>
<line x1="520.5500000000001" y1="507.1" x2="528.85" y2="507.1" stroke="#111" stroke-width="1.0"/>
<rect x="540.35" y="523.8" width="15.3" height="16.3" fill="#000000"/>
<line x1="548.0" y1="523.8" x2="548.0" y2="514.6" stroke="#111" stroke-width="1.0"/>
<line x1="543.85" y1="514.6" x2="552.15" y2="514.6" stroke="#111" stroke-width="1.0"/>
<rect x="563.7" y="449.0" width="15.3" height="91.1" fill="#a6752b"/>
<line x1="571.35" y1="449.0" x2="571.35" y2="428.0" stroke="#111" stroke-width="1.0"/>
<line x1="567.2" y1="428.0" x2="575.5" y2="428.0" stroke="#111" stroke-width="1.0"/>
<rect x="587.2" y="468.1" width="15.3" height="72.0" fill="#041a9a"/>
<line x1="594.85" y1="468.1" x2="594.85" y2="456.1" stroke="#111" stroke-width="1.0"/>
<line x1="590.7" y1="456.1" x2="599.0" y2="456.1" stroke="#111" stroke-width="1.0"/>
<circle cx="431.5" cy="495.9" r="2.1" fill="#000"/>
<circle cx="431.5" cy="504.8" r="2.1" fill="#000"/>
<circle cx="431.5" cy="540" r="2.1" fill="#000"/>
<circle cx="454.3" cy="514.5" r="2.1" fill="#000"/>
<circle cx="458.8" cy="537.1" r="2.1" fill="#000"/>
<circle cx="451.1" cy="540" r="2.1" fill="#000"/>
<circle cx="477.9" cy="456.2" r="2.1" fill="#000"/>
<circle cx="477.9" cy="464.9" r="2.1" fill="#000"/>
<circle cx="477.9" cy="488.5" r="2.1" fill="#000"/>
<circle cx="501.5" cy="499.6" r="2.1" fill="#000"/>
<circle cx="501.5" cy="535.1" r="2.1" fill="#000"/>
<circle cx="501.5" cy="540" r="2.1" fill="#000"/>
<circle cx="524.6" cy="498.4" r="2.1" fill="#000"/>
<circle cx="524.6" cy="519" r="2.1" fill="#000"/>
<circle cx="524.6" cy="540" r="2.1" fill="#000"/>
<circle cx="547.8" cy="507.2" r="2.1" fill="#000"/>
<circle cx="547.8" cy="523.8" r="2.1" fill="#000"/>
<circle cx="571.3" cy="413.2" r="2.1" fill="#000"/>
<circle cx="571.3" cy="448.5" r="2.1" fill="#000"/>
<circle cx="571.3" cy="484.8" r="2.1" fill="#000"/>
<circle cx="590.7" cy="454.1" r="2.1" fill="#000"/>
<circle cx="598.1" cy="457.9" r="2.1" fill="#000"/>
<circle cx="594.3" cy="491.9" r="2.1" fill="#000"/>
<line x1="415.4" y1="540.3" x2="609.6" y2="540.3" stroke="#000" stroke-width="1.3"/>
<line x1="431.35" y1="540.3" x2="431.35" y2="545.5" stroke="#000" stroke-width="1.3"/>
<line x1="454.6" y1="540.3" x2="454.6" y2="545.5" stroke="#000" stroke-width="1.3"/>
<line x1="478.1" y1="540.3" x2="478.1" y2="545.5" stroke="#000" stroke-width="1.3"/>
<line x1="501.2" y1="540.3" x2="501.2" y2="545.5" stroke="#000" stroke-width="1.3"/>
<line x1="524.7" y1="540.3" x2="524.7" y2="545.5" stroke="#000" stroke-width="1.3"/>
<line x1="548.0" y1="540.3" x2="548.0" y2="545.5" stroke="#000" stroke-width="1.3"/>
<line x1="571.35" y1="540.3" x2="571.35" y2="545.5" stroke="#000" stroke-width="1.3"/>
<line x1="594.85" y1="540.3" x2="594.85" y2="545.5" stroke="#000" stroke-width="1.3"/>
<polyline points="430.7,404.8 430.7,398.1 473.4,398.1 473.4,404.8" fill="none" stroke="#333" stroke-width="1.0"/>
<polyline points="477.9,404.8 477.9,398.1 501.5,398.1 501.5,404.8" fill="none" stroke="#333" stroke-width="1.0"/>
<polyline points="524.1,406.3 524.1,399.7 568.8,399.7 568.8,406.3" fill="none" stroke="#333" stroke-width="1.0"/>
<polyline points="571.3,406.3 571.3,399.7 594.8,399.7 594.8,406.3" fill="none" stroke="#333" stroke-width="1.0"/>
<text x="437.7" y="393.0" font-size="7.4" textLength="29.8" lengthAdjust="spacingAndGlyphs" fill="#111" stroke="#111" stroke-width="0.08">P=0.0572</text>
<text x="474.9" y="393.0" font-size="7.4" textLength="29.6" lengthAdjust="spacingAndGlyphs" fill="#111" stroke="#111" stroke-width="0.08">P=0.0268</text>
<text x="531.7" y="394.2" font-size="7.4" textLength="29.4" lengthAdjust="spacingAndGlyphs" fill="#111" stroke="#111" stroke-width="0.08">P=0.0423</text>
<text x="583.0" y="394.2" font-size="7.4" text-anchor="middle" fill="#111" stroke="#111" stroke-width="0.08">ns</text>
<text x="386.0" y="475.3" font-size="10.5" text-anchor="middle" textLength="70.1" lengthAdjust="spacingAndGlyphs" transform="rotate(-90 386.0 475.3)" fill="#000" stroke="#000" stroke-width="0.08">pSTAT5/STAT5</text>
<text x="616.0" y="544.0" font-size="10.5" textLength="18.4" lengthAdjust="spacingAndGlyphs" fill="#000" stroke="#000" stroke-width="0.08">kDa</text>
<clipPath id="cp419_550"><rect x="419.1" y="550.7" width="189.3" height="21.4"/></clipPath>
<rect x="419.1" y="550.7" width="189.3" height="21.4" fill="#ececec"/>
<g clip-path="url(#cp419_550)">
<rect x="419.1" y="550.7" width="189.3" height="21.4" fill="#000" opacity="0.16" filter="url(#grain)"/>
<rect x="422.0" y="552.5" width="18" height="12" rx="3.00" fill="url(#bg1)" fill-opacity="0.220" filter="url(#bl1)"/>
<rect x="449.0" y="559.0" width="12" height="6" rx="1.50" fill="#000" fill-opacity="0.040" filter="url(#bl1)"/>
<rect x="469.0" y="551.5" width="18" height="13" rx="3.25" fill="url(#bg1)" fill-opacity="0.600" filter="url(#bl1)"/>
<rect x="470.0" y="559.5" width="16" height="5" rx="1.25" fill="#000" fill-opacity="0.900" filter="url(#bl1)"/>
<rect x="496.0" y="558.0" width="12" height="6" rx="1.50" fill="#000" fill-opacity="0.050" filter="url(#bl1)"/>
<rect x="517.0" y="553.0" width="16" height="12" rx="3.00" fill="url(#bg1)" fill-opacity="0.450" filter="url(#bl1)"/>
<rect x="541.5" y="557.0" width="13" height="8" rx="2.00" fill="#000" fill-opacity="0.100" filter="url(#bl1)"/>
<rect x="562.5" y="549.0" width="19" height="19" rx="4.75" fill="url(#bg1)" fill-opacity="1.000" filter="url(#bl1)"/>
<rect x="563.0" y="558.0" width="18" height="8" rx="2.00" fill="#000" fill-opacity="1.000" filter="url(#bl1)"/>
<rect x="585.0" y="554.5" width="18" height="11" rx="2.75" fill="url(#bg1)" fill-opacity="0.500" filter="url(#bl1)"/>
<rect x="586.0" y="560.0" width="16" height="5" rx="1.25" fill="#000" fill-opacity="0.750" filter="url(#bl1)"/>
</g>
<rect x="419.1" y="550.7" width="189.3" height="21.4" fill="none" stroke="#000" stroke-width="2"/>
<clipPath id="cp419_576"><rect x="419.1" y="576.2" width="189.3" height="21.3"/></clipPath>
<rect x="419.1" y="576.2" width="189.3" height="21.3" fill="#ececec"/>
<g clip-path="url(#cp419_576)">
<rect x="419.1" y="576.2" width="189.3" height="21.3" fill="#000" opacity="0.16" filter="url(#grain)"/>
<rect x="430.8" y="579.6" width="17" height="10" rx="2.50" fill="#000" fill-opacity="0.350" filter="url(#bl1)"/>
<rect x="431.3" y="584.35" width="16" height="6.5" rx="1.62" fill="#000" fill-opacity="0.930" filter="url(#bl1)"/>
<rect x="451.6" y="579.0" width="17" height="10" rx="2.50" fill="#000" fill-opacity="0.350" filter="url(#bl1)"/>
<rect x="452.1" y="583.75" width="16" height="6.5" rx="1.62" fill="#000" fill-opacity="0.930" filter="url(#bl1)"/>
<rect x="473.5" y="578.2" width="17" height="10" rx="2.50" fill="#000" fill-opacity="0.350" filter="url(#bl1)"/>
<rect x="474.0" y="582.95" width="16" height="6.5" rx="1.62" fill="#000" fill-opacity="0.930" filter="url(#bl1)"/>
<rect x="496.1" y="577.6" width="17" height="10" rx="2.50" fill="#000" fill-opacity="0.350" filter="url(#bl1)"/>
<rect x="496.6" y="582.35" width="16" height="6.5" rx="1.62" fill="#000" fill-opacity="0.930" filter="url(#bl1)"/>
<rect x="518.3" y="577.5" width="17" height="10" rx="2.50" fill="#000" fill-opacity="0.350" filter="url(#bl1)"/>
<rect x="518.8" y="582.25" width="16" height="6.5" rx="1.62" fill="#000" fill-opacity="0.930" filter="url(#bl1)"/>
<rect x="540.7" y="577.5" width="17" height="10" rx="2.50" fill="#000" fill-opacity="0.350" filter="url(#bl1)"/>
<rect x="541.2" y="582.25" width="16" height="6.5" rx="1.62" fill="#000" fill-opacity="0.930" filter="url(#bl1)"/>
<rect x="562.5" y="577.3" width="17" height="10" rx="2.50" fill="#000" fill-opacity="0.350" filter="url(#bl1)"/>
<rect x="563.0" y="582.05" width="16" height="6.5" rx="1.62" fill="#000" fill-opacity="0.930" filter="url(#bl1)"/>
<rect x="584.5" y="577.3" width="17" height="10" rx="2.50" fill="#000" fill-opacity="0.350" filter="url(#bl1)"/>
<rect x="585.0" y="582.05" width="16" height="6.5" rx="1.62" fill="#000" fill-opacity="0.930" filter="url(#bl1)"/>
</g>
<rect x="419.1" y="576.2" width="189.3" height="21.3" fill="none" stroke="#000" stroke-width="2"/>
<text x="377.9" y="560.2" font-size="9.6" textLength="28.8" lengthAdjust="spacingAndGlyphs" fill="#000" stroke="#000" stroke-width="0.08">Tyr694</text>
<text x="377.4" y="570.6" font-size="9.6" textLength="34.2" lengthAdjust="spacingAndGlyphs" fill="#000" stroke="#000" stroke-width="0.08">pSTAT5</text>
<text x="379.4" y="589.2" font-size="9.6" textLength="29.0" lengthAdjust="spacingAndGlyphs" fill="#000" stroke="#000" stroke-width="0.08">STAT5</text>
<line x1="609.6" y1="559.9" x2="613.5" y2="559.9" stroke="#000" stroke-width="1.6"/>
<line x1="609.6" y1="584.0" x2="613.5" y2="584.0" stroke="#000" stroke-width="1.6"/>
<text x="616.8" y="563.6" font-size="10.5" textLength="12.0" lengthAdjust="spacingAndGlyphs" fill="#000" stroke="#000" stroke-width="0.08">92</text>
<text x="616.8" y="587.7" font-size="10.5" textLength="12.0" lengthAdjust="spacingAndGlyphs" fill="#000" stroke="#000" stroke-width="0.08">92</text>
<text x="420.3" y="610.9" font-size="9.3" text-anchor="end" textLength="70.4" lengthAdjust="spacingAndGlyphs" fill="#000" stroke="#000" stroke-width="0.08">15 μM 4OH-TAM</text>
<text x="418.8" y="626.9" font-size="9.3" text-anchor="end" textLength="25.1" lengthAdjust="spacingAndGlyphs" fill="#000" stroke="#000" stroke-width="0.08">THPO</text>
<text x="415.9" y="641.8" font-size="9.3" text-anchor="end" textLength="21.2" lengthAdjust="spacingAndGlyphs" fill="#000" stroke="#000" stroke-width="0.08">MMS</text>
<text x="439.7" y="613.5" font-size="9.5" text-anchor="middle" fill="#000" stroke="#000" stroke-width="0.08">-</text>
<text x="459.6" y="613.5" font-size="9.5" text-anchor="middle" fill="#000" stroke="#000" stroke-width="0.08">+</text>
<text x="482.4" y="613.5" font-size="9.5" text-anchor="middle" fill="#000" stroke="#000" stroke-width="0.08">-</text>
<text x="502.3" y="613.5" font-size="9.5" text-anchor="middle" fill="#000" stroke="#000" stroke-width="0.08">+</text>
<text x="527.5" y="613.5" font-size="9.5" text-anchor="middle" fill="#000" stroke="#000" stroke-width="0.08">-</text>
<text x="548.3" y="613.5" font-size="9.5" text-anchor="middle" fill="#000" stroke="#000" stroke-width="0.08">+</text>
<text x="573.5" y="613.5" font-size="9.5" text-anchor="middle" fill="#000" stroke="#000" stroke-width="0.08">-</text>
<text x="593.4" y="613.5" font-size="9.5" text-anchor="middle" fill="#000" stroke="#000" stroke-width="0.08">+</text>
<text x="439.7" y="627.8000000000001" font-size="9.5" text-anchor="middle" fill="#000" stroke="#000" stroke-width="0.08">-</text>
<text x="459.6" y="627.8000000000001" font-size="9.5" text-anchor="middle" fill="#000" stroke="#000" stroke-width="0.08">-</text>
<text x="482.4" y="627.8000000000001" font-size="9.5" text-anchor="middle" fill="#000" stroke="#000" stroke-width="0.08">+</text>
<text x="502.3" y="627.8000000000001" font-size="9.5" text-anchor="middle" fill="#000" stroke="#000" stroke-width="0.08">+</text>
<text x="527.5" y="627.8000000000001" font-size="9.5" text-anchor="middle" fill="#000" stroke="#000" stroke-width="0.08">-</text>
<text x="548.3" y="627.8000000000001" font-size="9.5" text-anchor="middle" fill="#000" stroke="#000" stroke-width="0.08">-</text>
<text x="573.5" y="627.8000000000001" font-size="9.5" text-anchor="middle" fill="#000" stroke="#000" stroke-width="0.08">+</text>
<text x="593.4" y="627.8000000000001" font-size="9.5" text-anchor="middle" fill="#000" stroke="#000" stroke-width="0.08">+</text>
<text x="439.7" y="642.5" font-size="9.5" text-anchor="middle" fill="#000" stroke="#000" stroke-width="0.08">-</text>
<text x="459.6" y="642.5" font-size="9.5" text-anchor="middle" fill="#000" stroke="#000" stroke-width="0.08">-</text>
<text x="482.4" y="642.5" font-size="9.5" text-anchor="middle" fill="#000" stroke="#000" stroke-width="0.08">-</text>
<text x="502.3" y="642.5" font-size="9.5" text-anchor="middle" fill="#000" stroke="#000" stroke-width="0.08">-</text>
<text x="527.5" y="642.5" font-size="9.5" text-anchor="middle" fill="#000" stroke="#000" stroke-width="0.08">+</text>
<text x="548.3" y="642.5" font-size="9.5" text-anchor="middle" fill="#000" stroke="#000" stroke-width="0.08">+</text>
<text x="573.5" y="642.5" font-size="9.5" text-anchor="middle" fill="#000" stroke="#000" stroke-width="0.08">+</text>
<text x="593.4" y="642.5" font-size="9.5" text-anchor="middle" fill="#000" stroke="#000" stroke-width="0.08">+</text>
<line x1="57.4" y1="679.2" x2="57.4" y2="812.4" stroke="#000" stroke-width="1.3"/>
<line x1="51.8" y1="811.8" x2="57.4" y2="811.8" stroke="#000" stroke-width="1.3"/>
<text x="49.6" y="815.5999999999999" font-size="10" text-anchor="end" textLength="15.1" lengthAdjust="spacingAndGlyphs" fill="#000" stroke="#000" stroke-width="0.08">0.0</text>
<line x1="51.8" y1="785.3599999999999" x2="57.4" y2="785.3599999999999" stroke="#000" stroke-width="1.3"/>
<text x="49.6" y="789.1599999999999" font-size="10" text-anchor="end" textLength="15.1" lengthAdjust="spacingAndGlyphs" fill="#000" stroke="#000" stroke-width="0.08">0.5</text>
<line x1="51.8" y1="758.92" x2="57.4" y2="758.92" stroke="#000" stroke-width="1.3"/>
<text x="49.6" y="762.7199999999999" font-size="10" text-anchor="end" textLength="15.1" lengthAdjust="spacingAndGlyphs" fill="#000" stroke="#000" stroke-width="0.08">1.0</text>
<line x1="51.8" y1="732.4799999999999" x2="57.4" y2="732.4799999999999" stroke="#000" stroke-width="1.3"/>
<text x="49.6" y="736.2799999999999" font-size="10" text-anchor="end" textLength="15.1" lengthAdjust="spacingAndGlyphs" fill="#000" stroke="#000" stroke-width="0.08">1.5</text>
<line x1="51.8" y1="706.04" x2="57.4" y2="706.04" stroke="#000" stroke-width="1.3"/>
<text x="49.6" y="709.8399999999999" font-size="10" text-anchor="end" textLength="15.1" lengthAdjust="spacingAndGlyphs" fill="#000" stroke="#000" stroke-width="0.08">2.0</text>
<line x1="51.8" y1="679.5999999999999" x2="57.4" y2="679.5999999999999" stroke="#000" stroke-width="1.3"/>
<text x="49.6" y="683.3999999999999" font-size="10" text-anchor="end" textLength="15.1" lengthAdjust="spacingAndGlyphs" fill="#000" stroke="#000" stroke-width="0.08">2.5</text>
<rect x="65.89999999999999" y="784.7" width="16.4" height="27.1" fill="#0c4e98"/>
<line x1="74.1" y1="784.7" x2="74.1" y2="781.0" stroke="#111" stroke-width="1.0"/>
<line x1="69.85" y1="781.0" x2="78.35" y2="781.0" stroke="#111" stroke-width="1.0"/>
<rect x="90.7" y="791.9" width="16.4" height="19.9" fill="#d8d46a"/>
<line x1="98.9" y1="791.9" x2="98.9" y2="784.0" stroke="#111" stroke-width="1.0"/>
<line x1="94.65" y1="784.0" x2="103.15" y2="784.0" stroke="#111" stroke-width="1.0"/>
<rect x="115.5" y="718.2" width="16.4" height="93.6" fill="#cf4b4d"/>
<line x1="123.7" y1="718.2" x2="123.7" y2="702.5" stroke="#111" stroke-width="1.0"/>
<line x1="119.45" y1="702.5" x2="127.95" y2="702.5" stroke="#111" stroke-width="1.0"/>
<rect x="140.35000000000002" y="769.8" width="16.4" height="42.0" fill="#8e1208"/>
<line x1="148.55" y1="769.8" x2="148.55" y2="756.2" stroke="#111" stroke-width="1.0"/>
<line x1="144.3" y1="756.2" x2="152.8" y2="756.2" stroke="#111" stroke-width="1.0"/>
<rect x="165.4" y="778.2" width="16.4" height="33.6" fill="#fd9500"/>
<line x1="173.6" y1="778.2" x2="173.6" y2="768.6" stroke="#111" stroke-width="1.0"/>
<line x1="169.35" y1="768.6" x2="177.85" y2="768.6" stroke="#111" stroke-width="1.0"/>
<rect x="190.20000000000002" y="782.2" width="16.4" height="29.6" fill="#000000"/>
<line x1="198.4" y1="782.2" x2="198.4" y2="771.5" stroke="#111" stroke-width="1.0"/>
<line x1="194.15" y1="771.5" x2="202.65" y2="771.5" stroke="#111" stroke-width="1.0"/>
<rect x="215.0" y="726.1" width="16.4" height="85.7" fill="#a6752b"/>
<line x1="223.2" y1="726.1" x2="223.2" y2="712.5" stroke="#111" stroke-width="1.0"/>
<line x1="218.95" y1="712.5" x2="227.45" y2="712.5" stroke="#111" stroke-width="1.0"/>
<rect x="239.8" y="728.1" width="16.4" height="83.7" fill="#041a9a"/>
<line x1="248.0" y1="728.1" x2="248.0" y2="718.2" stroke="#111" stroke-width="1.0"/>
<line x1="243.75" y1="718.2" x2="252.25" y2="718.2" stroke="#111" stroke-width="1.0"/>
<circle cx="70.2" cy="781.2" r="2.1" fill="#000"/>
<circle cx="77.7" cy="782" r="2.1" fill="#000"/>
<circle cx="74" cy="791.2" r="2.1" fill="#000"/>
<circle cx="98.8" cy="777.3" r="2.1" fill="#000"/>
<circle cx="98.8" cy="795.0" r="2.1" fill="#000"/>
<circle cx="98.8" cy="801.8" r="2.1" fill="#000"/>
<circle cx="123.6" cy="686.7" r="2.1" fill="#000"/>
<circle cx="123.6" cy="729.4" r="2.1" fill="#000"/>
<circle cx="123.6" cy="736.8" r="2.1" fill="#000"/>
<circle cx="148.4" cy="751" r="2.1" fill="#000"/>
<circle cx="148.4" cy="762.9" r="2.1" fill="#000"/>
<circle cx="148.4" cy="796.4" r="2.1" fill="#000"/>
<circle cx="173.6" cy="758.6" r="2.1" fill="#000"/>
<circle cx="169.4" cy="788.9" r="2.1" fill="#000"/>
<circle cx="177.8" cy="787.7" r="2.1" fill="#000"/>
<circle cx="198.4" cy="762.1" r="2.1" fill="#000"/>
<circle cx="198.4" cy="790" r="2.1" fill="#000"/>
<circle cx="198.4" cy="800" r="2.1" fill="#000"/>
<circle cx="219" cy="712" r="2.1" fill="#000"/>
<circle cx="226.9" cy="712.7" r="2.1" fill="#000"/>
<circle cx="222.7" cy="752.4" r="2.1" fill="#000"/>
<circle cx="248" cy="711.5" r="2.1" fill="#000"/>
<circle cx="248" cy="726.9" r="2.1" fill="#000"/>
<circle cx="248" cy="746.2" r="2.1" fill="#000"/>
<line x1="56.8" y1="811.8" x2="264.7" y2="811.8" stroke="#000" stroke-width="1.6"/>
<line x1="74.1" y1="811.8" x2="74.1" y2="817.1999999999999" stroke="#000" stroke-width="1.6"/>
<line x1="98.9" y1="811.8" x2="98.9" y2="817.1999999999999" stroke="#000" stroke-width="1.6"/>
<line x1="123.7" y1="811.8" x2="123.7" y2="817.1999999999999" stroke="#000" stroke-width="1.6"/>
<line x1="148.55" y1="811.8" x2="148.55" y2="817.1999999999999" stroke="#000" stroke-width="1.6"/>
<line x1="173.6" y1="811.8" x2="173.6" y2="817.1999999999999" stroke="#000" stroke-width="1.6"/>
<line x1="198.4" y1="811.8" x2="198.4" y2="817.1999999999999" stroke="#000" stroke-width="1.6"/>
<line x1="223.2" y1="811.8" x2="223.2" y2="817.1999999999999" stroke="#000" stroke-width="1.6"/>
<line x1="248.0" y1="811.8" x2="248.0" y2="817.1999999999999" stroke="#000" stroke-width="1.6"/>
<polyline points="123.6,674.7 123.6,667.8 148.4,667.8 148.4,674.7" fill="none" stroke="#333" stroke-width="1.0"/>
<polyline points="173.1,675.2 173.1,668.5 220.2,668.5 220.2,675.2" fill="none" stroke="#333" stroke-width="1.0"/>
<polyline points="223.2,675.2 223.2,668.5 248.0,668.5 248.0,675.2" fill="none" stroke="#333" stroke-width="1.0"/>
<text x="120.4" y="661.8" font-size="7.4" textLength="31.5" lengthAdjust="spacingAndGlyphs" fill="#111" stroke="#111" stroke-width="0.08">P=0.0643</text>
<text x="181.0" y="662.5" font-size="7.4" textLength="31.0" lengthAdjust="spacingAndGlyphs" fill="#111" stroke="#111" stroke-width="0.08">P=0.0228</text>
<text x="235.6" y="662.5" font-size="7.4" text-anchor="middle" fill="#111" stroke="#111" stroke-width="0.08">ns</text>
<text x="13.3" y="745.8" font-size="9.6" text-anchor="middle" textLength="56.4" lengthAdjust="spacingAndGlyphs" transform="rotate(-90 13.3 745.8)" fill="#000" stroke="#000" stroke-width="0.08">pJAK2(221)</text>
<text x="25.6" y="746.2" font-size="9.6" text-anchor="middle" textLength="28.2" lengthAdjust="spacingAndGlyphs" transform="rotate(-90 25.6 746.2)" fill="#000" stroke="#000" stroke-width="0.08">/JAK2</text>
<text x="269.1" y="817.2" font-size="10.5" textLength="18.6" lengthAdjust="spacingAndGlyphs" fill="#000" stroke="#000" stroke-width="0.08">kDa</text>
<clipPath id="cp70_823"><rect x="70.1" y="823.6" width="191.3" height="23.2"/></clipPath>
<rect x="70.1" y="823.6" width="191.3" height="23.2" fill="#efefef"/>
<g clip-path="url(#cp70_823)">
<rect x="70.1" y="823.6" width="191.3" height="23.2" fill="#000" opacity="0.16" filter="url(#grain)"/>
<rect x="73.5" y="828.0" width="20" height="14" rx="3.50" fill="#000" fill-opacity="0.100" filter="url(#bl1)"/>
<rect x="74.0" y="830.5" width="19" height="4" rx="1.00" fill="#000" fill-opacity="0.180" filter="url(#bl1)"/>
<rect x="74.0" y="837.0" width="19" height="4" rx="1.00" fill="#000" fill-opacity="0.140" filter="url(#bl1)"/>
<rect x="97.5" y="830.0" width="17" height="12" rx="3.00" fill="#000" fill-opacity="0.060" filter="url(#bl1)"/>
<rect x="119.8" y="823.0" width="19" height="22" rx="4.75" fill="#000" fill-opacity="0.450" filter="url(#bl1)"/>
<rect x="120.8" y="828.5" width="17" height="11" rx="2.75" fill="#000" fill-opacity="0.900" filter="url(#bl1)"/>
<rect x="143.5" y="829.0" width="19" height="12" rx="3.00" fill="#000" fill-opacity="0.070" filter="url(#bl1)"/>
<rect x="144.0" y="830.5" width="18" height="4" rx="1.00" fill="#000" fill-opacity="0.150" filter="url(#bl1)"/>
<rect x="144.0" y="836.5" width="18" height="4" rx="1.00" fill="#000" fill-opacity="0.120" filter="url(#bl1)"/>
<rect x="169.0" y="829.0" width="18" height="12" rx="3.00" fill="#000" fill-opacity="0.130" filter="url(#bl1)"/>
<rect x="193.5" y="830.0" width="17" height="10" rx="2.50" fill="#000" fill-opacity="0.060" filter="url(#bl1)"/>
<rect x="216.0" y="829.0" width="20" height="14" rx="3.50" fill="#000" fill-opacity="0.350" filter="url(#bl1)"/>
<rect x="216.5" y="829.5" width="19" height="5" rx="1.25" fill="#000" fill-opacity="0.500" filter="url(#bl1)"/>
<rect x="216.0" y="836.0" width="20" height="6" rx="1.50" fill="#000" fill-opacity="0.850" filter="url(#bl1)"/>
<rect x="239.7" y="830.0" width="20" height="14" rx="3.50" fill="#000" fill-opacity="0.300" filter="url(#bl1)"/>
<rect x="240.2" y="836.5" width="19" height="7" rx="1.75" fill="#000" fill-opacity="0.920" filter="url(#bl1)"/>
</g>
<rect x="70.1" y="823.6" width="191.3" height="23.2" fill="none" stroke="#000" stroke-width="2"/>
<clipPath id="cp70_854"><rect x="70.1" y="854.4" width="191.3" height="22.6"/></clipPath>
<rect x="70.1" y="854.4" width="191.3" height="22.6" fill="#e4e4e4"/>
<g clip-path="url(#cp70_854)">
<rect x="70.1" y="854.4" width="191.3" height="22.6" fill="#000" opacity="0.16" filter="url(#grain)"/>
<rect x="72.5" y="867.0" width="19" height="10" rx="2.50" fill="#000" fill-opacity="0.120" filter="url(#bl1)"/>
<rect x="72.5" y="864.5" width="19" height="7" rx="1.75" fill="#000" fill-opacity="0.950" filter="url(#bl1)"/>
<rect x="96.5" y="865.0" width="19" height="10" rx="2.50" fill="#000" fill-opacity="0.120" filter="url(#bl1)"/>
<rect x="96.5" y="862.5" width="19" height="7" rx="1.75" fill="#000" fill-opacity="0.950" filter="url(#bl1)"/>
<rect x="121.0" y="862.5" width="19" height="10" rx="2.50" fill="#000" fill-opacity="0.120" filter="url(#bl1)"/>
<rect x="121.0" y="860.0" width="19" height="7" rx="1.75" fill="#000" fill-opacity="0.950" filter="url(#bl1)"/>
<rect x="144.5" y="860.0" width="19" height="10" rx="2.50" fill="#000" fill-opacity="0.120" filter="url(#bl1)"/>
<rect x="144.5" y="857.5" width="19" height="7" rx="1.75" fill="#000" fill-opacity="0.950" filter="url(#bl1)"/>
<rect x="168.0" y="860.0" width="19" height="10" rx="2.50" fill="#000" fill-opacity="0.120" filter="url(#bl1)"/>
<rect x="168.0" y="857.5" width="19" height="7" rx="1.75" fill="#000" fill-opacity="0.950" filter="url(#bl1)"/>
<rect x="191.8" y="859.0" width="19" height="10" rx="2.50" fill="#000" fill-opacity="0.120" filter="url(#bl1)"/>
<rect x="191.8" y="856.5" width="19" height="7" rx="1.75" fill="#000" fill-opacity="0.950" filter="url(#bl1)"/>
<rect x="216.4" y="862.0" width="19" height="10" rx="2.50" fill="#000" fill-opacity="0.120" filter="url(#bl1)"/>
<rect x="216.4" y="859.5" width="19" height="7" rx="1.75" fill="#000" fill-opacity="0.950" filter="url(#bl1)"/>
<rect x="238.5" y="865.0" width="19" height="10" rx="2.50" fill="#000" fill-opacity="0.120" filter="url(#bl1)"/>
<rect x="238.5" y="862.5" width="19" height="7" rx="1.75" fill="#000" fill-opacity="0.950" filter="url(#bl1)"/>
</g>
<rect x="70.1" y="854.4" width="191.3" height="22.6" fill="none" stroke="#000" stroke-width="2"/>
<text x="39.2" y="835.1" font-size="9.5" textLength="27.8" lengthAdjust="spacingAndGlyphs" fill="#000" stroke="#000" stroke-width="0.08">Tyr211</text>
<text x="39.2" y="846.8" font-size="9.5" textLength="27.3" lengthAdjust="spacingAndGlyphs" fill="#000" stroke="#000" stroke-width="0.08">pJAK2</text>
<text x="39.2" y="865.9" font-size="9.5" textLength="21.6" lengthAdjust="spacingAndGlyphs" fill="#000" stroke="#000" stroke-width="0.08">JAK2</text>
<line x1="262.5" y1="834.1" x2="268.0" y2="834.1" stroke="#000" stroke-width="1.8"/>
<line x1="262.5" y1="867.4" x2="268.0" y2="867.4" stroke="#000" stroke-width="1.8"/>
<text x="271.6" y="837.8" font-size="10.5" textLength="17.4" lengthAdjust="spacingAndGlyphs" fill="#000" stroke="#000" stroke-width="0.08">130</text>
<text x="271.6" y="871.1" font-size="10.5" textLength="17.4" lengthAdjust="spacingAndGlyphs" fill="#000" stroke="#000" stroke-width="0.08">130</text>
<text x="71.2" y="893.4" font-size="9.5" text-anchor="end" textLength="70.0" lengthAdjust="spacingAndGlyphs" fill="#000" stroke="#000" stroke-width="0.08">15 μM 4OH-TAM</text>
<text x="71.2" y="908.5" font-size="9.5" text-anchor="end" textLength="24.8" lengthAdjust="spacingAndGlyphs" fill="#000" stroke="#000" stroke-width="0.08">THPO</text>
<text x="68.3" y="924.4" font-size="9.5" text-anchor="end" textLength="21.1" lengthAdjust="spacingAndGlyphs" fill="#000" stroke="#000" stroke-width="0.08">MMS</text>
<text x="93.8" y="895.1" font-size="10" text-anchor="middle" fill="#000" stroke="#000" stroke-width="0.08">-</text>
<text x="114.7" y="895.1" font-size="10" text-anchor="middle" fill="#000" stroke="#000" stroke-width="0.08">+</text>
<text x="138.5" y="895.1" font-size="10" text-anchor="middle" fill="#000" stroke="#000" stroke-width="0.08">-</text>
<text x="159.3" y="895.1" font-size="10" text-anchor="middle" fill="#000" stroke="#000" stroke-width="0.08">+</text>
<text x="185.5" y="895.1" font-size="10" text-anchor="middle" fill="#000" stroke="#000" stroke-width="0.08">-</text>
<text x="206.6" y="895.1" font-size="10" text-anchor="middle" fill="#000" stroke="#000" stroke-width="0.08">+</text>
<text x="233.1" y="895.1" font-size="10" text-anchor="middle" fill="#000" stroke="#000" stroke-width="0.08">-</text>
<text x="254.2" y="895.1" font-size="10" text-anchor="middle" fill="#000" stroke="#000" stroke-width="0.08">+</text>
<text x="93.8" y="909.1" font-size="10" text-anchor="middle" fill="#000" stroke="#000" stroke-width="0.08">-</text>
<text x="114.7" y="909.1" font-size="10" text-anchor="middle" fill="#000" stroke="#000" stroke-width="0.08">-</text>
<text x="138.5" y="909.1" font-size="10" text-anchor="middle" fill="#000" stroke="#000" stroke-width="0.08">+</text>
<text x="159.3" y="909.1" font-size="10" text-anchor="middle" fill="#000" stroke="#000" stroke-width="0.08">+</text>
<text x="185.5" y="909.1" font-size="10" text-anchor="middle" fill="#000" stroke="#000" stroke-width="0.08">-</text>
<text x="206.6" y="909.1" font-size="10" text-anchor="middle" fill="#000" stroke="#000" stroke-width="0.08">-</text>
<text x="233.1" y="909.1" font-size="10" text-anchor="middle" fill="#000" stroke="#000" stroke-width="0.08">+</text>
<text x="254.2" y="909.1" font-size="10" text-anchor="middle" fill="#000" stroke="#000" stroke-width="0.08">+</text>
<text x="93.8" y="925.1" font-size="10" text-anchor="middle" fill="#000" stroke="#000" stroke-width="0.08">-</text>
<text x="114.7" y="925.1" font-size="10" text-anchor="middle" fill="#000" stroke="#000" stroke-width="0.08">-</text>
<text x="138.5" y="925.1" font-size="10" text-anchor="middle" fill="#000" stroke="#000" stroke-width="0.08">-</text>
<text x="159.3" y="925.1" font-size="10" text-anchor="middle" fill="#000" stroke="#000" stroke-width="0.08">-</text>
<text x="185.5" y="925.1" font-size="10" text-anchor="middle" fill="#000" stroke="#000" stroke-width="0.08">+</text>
<text x="206.6" y="925.1" font-size="10" text-anchor="middle" fill="#000" stroke="#000" stroke-width="0.08">+</text>
<text x="233.1" y="925.1" font-size="10" text-anchor="middle" fill="#000" stroke="#000" stroke-width="0.08">+</text>
<text x="254.2" y="925.1" font-size="10" text-anchor="middle" fill="#000" stroke="#000" stroke-width="0.08">+</text>
<line x1="421.1" y1="682.1" x2="421.1" y2="812.4" stroke="#000" stroke-width="1.3"/>
<line x1="415.5" y1="811.6" x2="421.1" y2="811.6" stroke="#000" stroke-width="1.3"/>
<text x="413.6" y="815.4" font-size="10" text-anchor="end" textLength="15.1" lengthAdjust="spacingAndGlyphs" fill="#000" stroke="#000" stroke-width="0.08">0.0</text>
<line x1="415.5" y1="785.7" x2="421.1" y2="785.7" stroke="#000" stroke-width="1.3"/>
<text x="413.6" y="789.5" font-size="10" text-anchor="end" textLength="15.1" lengthAdjust="spacingAndGlyphs" fill="#000" stroke="#000" stroke-width="0.08">0.5</text>
<line x1="415.5" y1="759.8000000000001" x2="421.1" y2="759.8000000000001" stroke="#000" stroke-width="1.3"/>
<text x="413.6" y="763.6" font-size="10" text-anchor="end" textLength="15.1" lengthAdjust="spacingAndGlyphs" fill="#000" stroke="#000" stroke-width="0.08">1.0</text>
<line x1="415.5" y1="733.9000000000001" x2="421.1" y2="733.9000000000001" stroke="#000" stroke-width="1.3"/>
<text x="413.6" y="737.7" font-size="10" text-anchor="end" textLength="15.1" lengthAdjust="spacingAndGlyphs" fill="#000" stroke="#000" stroke-width="0.08">1.5</text>
<line x1="415.5" y1="708.0" x2="421.1" y2="708.0" stroke="#000" stroke-width="1.3"/>
<text x="413.6" y="711.8" font-size="10" text-anchor="end" textLength="15.1" lengthAdjust="spacingAndGlyphs" fill="#000" stroke="#000" stroke-width="0.08">2.0</text>
<line x1="415.5" y1="682.1" x2="421.1" y2="682.1" stroke="#000" stroke-width="1.3"/>
<text x="413.6" y="685.9" font-size="10" text-anchor="end" textLength="15.1" lengthAdjust="spacingAndGlyphs" fill="#000" stroke="#000" stroke-width="0.08">2.5</text>
<rect x="428.95" y="789.4" width="15.7" height="22.4" fill="#0c4e98"/>
<line x1="436.8" y1="789.4" x2="436.8" y2="783.2" stroke="#111" stroke-width="1.0"/>
<line x1="432.55" y1="783.2" x2="441.05" y2="783.2" stroke="#111" stroke-width="1.0"/>
<rect x="452.15" y="805.6" width="15.7" height="6.2" fill="#d8d46a"/>
<line x1="460.0" y1="805.6" x2="460.0" y2="799.4" stroke="#111" stroke-width="1.0"/>
<line x1="455.75" y1="799.4" x2="464.25" y2="799.4" stroke="#111" stroke-width="1.0"/>
<rect x="475.59999999999997" y="749.2" width="15.7" height="62.6" fill="#cf4b4d"/>
<line x1="483.45" y1="749.2" x2="483.45" y2="743.0" stroke="#111" stroke-width="1.0"/>
<line x1="479.2" y1="743.0" x2="487.7" y2="743.0" stroke="#111" stroke-width="1.0"/>
<rect x="499.15" y="796.1" width="15.7" height="15.7" fill="#8e1208"/>
<line x1="507.0" y1="796.1" x2="507.0" y2="791.4" stroke="#111" stroke-width="1.0"/>
<line x1="502.75" y1="791.4" x2="511.25" y2="791.4" stroke="#111" stroke-width="1.0"/>
<rect x="522.25" y="797.9" width="15.7" height="13.9" fill="#fd9500"/>
<line x1="530.1" y1="797.9" x2="530.1" y2="791.9" stroke="#111" stroke-width="1.0"/>
<line x1="525.85" y1="791.9" x2="534.35" y2="791.9" stroke="#111" stroke-width="1.0"/>
<rect x="545.75" y="804.8" width="15.7" height="7.0" fill="#000000"/>
<line x1="553.6" y1="804.8" x2="553.6" y2="799.4" stroke="#111" stroke-width="1.0"/>
<line x1="549.35" y1="799.4" x2="557.85" y2="799.4" stroke="#111" stroke-width="1.0"/>
<rect x="569.0" y="739.8" width="15.7" height="72.0" fill="#a6752b"/>
<line x1="576.85" y1="739.8" x2="576.85" y2="723.1" stroke="#111" stroke-width="1.0"/>
<line x1="572.6" y1="723.1" x2="581.1" y2="723.1" stroke="#111" stroke-width="1.0"/>
<rect x="592.25" y="752.4" width="15.7" height="59.4" fill="#041a9a"/>
<line x1="600.1" y1="752.4" x2="600.1" y2="742.3" stroke="#111" stroke-width="1.0"/>
<line x1="595.85" y1="742.3" x2="604.35" y2="742.3" stroke="#111" stroke-width="1.0"/>
<circle cx="436.8" cy="778.2" r="2.1" fill="#000"/>
<circle cx="436.8" cy="790.4" r="2.1" fill="#000"/>
<circle cx="436.8" cy="799.1" r="2.1" fill="#000"/>
<circle cx="460.4" cy="794.1" r="2.1" fill="#000"/>
<circle cx="456.2" cy="811.8" r="2.1" fill="#000"/>
<circle cx="464.8" cy="809.8" r="2.1" fill="#000"/>
<circle cx="479.7" cy="741.8" r="2.1" fill="#000"/>
<circle cx="487.2" cy="743.7" r="2.1" fill="#000"/>
<circle cx="483.2" cy="762.1" r="2.1" fill="#000"/>
<circle cx="502.9" cy="789.9" r="2.1" fill="#000"/>
<circle cx="510.6" cy="791.7" r="2.1" fill="#000"/>
<circle cx="506.9" cy="804.8" r="2.1" fill="#000"/>
<circle cx="530.2" cy="789.2" r="2.1" fill="#000"/>
<circle cx="530.2" cy="796.9" r="2.1" fill="#000"/>
<circle cx="530.2" cy="808.5" r="2.1" fill="#000"/>
<circle cx="553.3" cy="794.4" r="2.1" fill="#000"/>
<circle cx="553.3" cy="808" r="2.1" fill="#000"/>
<circle cx="576.9" cy="712.5" r="2.1" fill="#000"/>
<circle cx="576.9" cy="737.5" r="2.1" fill="#000"/>
<circle cx="576.9" cy="769.1" r="2.1" fill="#000"/>
<circle cx="600" cy="732.6" r="2.1" fill="#000"/>
<circle cx="600" cy="759.6" r="2.1" fill="#000"/>
<circle cx="600" cy="765.3" r="2.1" fill="#000"/>
<line x1="420.5" y1="811.8" x2="615.3" y2="811.8" stroke="#000" stroke-width="1.6"/>
<line x1="436.8" y1="811.8" x2="436.8" y2="817.1999999999999" stroke="#000" stroke-width="1.6"/>
<line x1="460.0" y1="811.8" x2="460.0" y2="817.1999999999999" stroke="#000" stroke-width="1.6"/>
<line x1="483.45" y1="811.8" x2="483.45" y2="817.1999999999999" stroke="#000" stroke-width="1.6"/>
<line x1="507.0" y1="811.8" x2="507.0" y2="817.1999999999999" stroke="#000" stroke-width="1.6"/>
<line x1="530.1" y1="811.8" x2="530.1" y2="817.1999999999999" stroke="#000" stroke-width="1.6"/>
<line x1="553.6" y1="811.8" x2="553.6" y2="817.1999999999999" stroke="#000" stroke-width="1.6"/>
<line x1="576.85" y1="811.8" x2="576.85" y2="817.1999999999999" stroke="#000" stroke-width="1.6"/>
<line x1="600.1" y1="811.8" x2="600.1" y2="817.1999999999999" stroke="#000" stroke-width="1.6"/>
<polyline points="483.5,677.2 483.5,670.3 506.3,670.3 506.3,677.2" fill="none" stroke="#333" stroke-width="1.0"/>
<polyline points="529.2,678.0 529.2,671.5 573.6,671.5 573.6,678.0" fill="none" stroke="#333" stroke-width="1.0"/>
<polyline points="576.4,678.0 576.4,671.5 600.0,671.5 600.0,678.0" fill="none" stroke="#333" stroke-width="1.0"/>
<text x="480.7" y="665.4" font-size="7.4" textLength="29.3" lengthAdjust="spacingAndGlyphs" fill="#111" stroke="#111" stroke-width="0.08">P=0.0043</text>
<text x="537.2" y="665.7" font-size="7.4" textLength="29.8" lengthAdjust="spacingAndGlyphs" fill="#111" stroke="#111" stroke-width="0.08">P=0.0279</text>
<text x="588.3" y="665.7" font-size="7.4" text-anchor="middle" fill="#111" stroke="#111" stroke-width="0.08">ns</text>
<text x="379.1" y="747.2" font-size="9.6" text-anchor="middle" textLength="69.8" lengthAdjust="spacingAndGlyphs" transform="rotate(-90 379.1 747.2)" fill="#000" stroke="#000" stroke-width="0.08">pJAK2(1007/8)</text>
<text x="391.4" y="748.0" font-size="9.6" text-anchor="middle" textLength="27.7" lengthAdjust="spacingAndGlyphs" transform="rotate(-90 391.4 748.0)" fill="#000" stroke="#000" stroke-width="0.08">/JAK2</text>
<text x="616.6" y="814.7" font-size="10.5" textLength="18.6" lengthAdjust="spacingAndGlyphs" fill="#000" stroke="#000" stroke-width="0.08">kDa</text>
<clipPath id="cp422_827"><rect x="422.5" y="827.8" width="188.9" height="19.3"/></clipPath>
<rect x="422.5" y="827.8" width="188.9" height="19.3" fill="#ededed"/>
<g clip-path="url(#cp422_827)">
<rect x="422.5" y="827.8" width="188.9" height="19.3" fill="#000" opacity="0.16" filter="url(#grain)"/>
<rect x="427.2" y="835.5" width="17" height="9" rx="2.25" fill="#000" fill-opacity="0.280" filter="url(#bl1)"/>
<rect x="427.5" y="832.0" width="2" height="12" rx="0.50" fill="#000" fill-opacity="0.500" filter="url(#bl1)"/>
<rect x="470.8" y="829.0" width="20" height="16" rx="4.00" fill="#000" fill-opacity="0.400" filter="url(#bl1)"/>
<rect x="471.8" y="834.5" width="18" height="9" rx="2.25" fill="#000" fill-opacity="0.920" filter="url(#bl1)"/>
<rect x="497.1" y="836.0" width="17" height="8" rx="2.00" fill="#000" fill-opacity="0.220" filter="url(#bl1)"/>
<rect x="519.3" y="836.5" width="18" height="7" rx="1.75" fill="#000" fill-opacity="0.130" filter="url(#bl1)"/>
<rect x="541.0" y="838.5" width="14" height="5" rx="1.25" fill="#000" fill-opacity="0.050" filter="url(#bl1)"/>
<rect x="565.4" y="829.0" width="20" height="10" rx="2.50" fill="#000" fill-opacity="0.450" filter="url(#bl1)"/>
<rect x="565.9" y="833.5" width="19" height="9" rx="2.25" fill="#000" fill-opacity="0.920" filter="url(#bl1)"/>
<rect x="590.5" y="829.0" width="20" height="10" rx="2.50" fill="#000" fill-opacity="0.450" filter="url(#bl1)"/>
<rect x="591.0" y="833.5" width="19" height="9" rx="2.25" fill="#000" fill-opacity="0.920" filter="url(#bl1)"/>
</g>
<rect x="422.5" y="827.8" width="188.9" height="19.3" fill="none" stroke="#000" stroke-width="2"/>
<clipPath id="cp422_853"><rect x="422.5" y="853.0" width="188.9" height="22.8"/></clipPath>
<rect x="422.5" y="853.0" width="188.9" height="22.8" fill="#e6e6e6"/>
<g clip-path="url(#cp422_853)">
<rect x="422.5" y="853.0" width="188.9" height="22.8" fill="#000" opacity="0.16" filter="url(#grain)"/>
<rect x="426.0" y="857.8" width="18" height="9" rx="2.25" fill="#000" fill-opacity="0.100" filter="url(#bl1)"/>
<rect x="426.25" y="856.05" width="17.5" height="6.5" rx="1.62" fill="#000" fill-opacity="0.970" filter="url(#bl1)"/>
<rect x="449.0" y="857.1" width="18" height="9" rx="2.25" fill="#000" fill-opacity="0.100" filter="url(#bl1)"/>
<rect x="449.25" y="855.35" width="17.5" height="6.5" rx="1.62" fill="#000" fill-opacity="0.970" filter="url(#bl1)"/>
<rect x="472.0" y="856.1" width="18" height="9" rx="2.25" fill="#000" fill-opacity="0.100" filter="url(#bl1)"/>
<rect x="472.25" y="854.35" width="17.5" height="6.5" rx="1.62" fill="#000" fill-opacity="0.970" filter="url(#bl1)"/>
<rect x="495.0" y="857.5" width="18" height="9" rx="2.25" fill="#000" fill-opacity="0.100" filter="url(#bl1)"/>
<rect x="495.25" y="855.75" width="17.5" height="6.5" rx="1.62" fill="#000" fill-opacity="0.970" filter="url(#bl1)"/>
<rect x="518.5" y="859.5" width="18" height="9" rx="2.25" fill="#000" fill-opacity="0.100" filter="url(#bl1)"/>
<rect x="518.75" y="857.75" width="17.5" height="6.5" rx="1.62" fill="#000" fill-opacity="0.970" filter="url(#bl1)"/>
<rect x="542.5" y="860.5" width="18" height="9" rx="2.25" fill="#000" fill-opacity="0.100" filter="url(#bl1)"/>
<rect x="542.75" y="858.75" width="17.5" height="6.5" rx="1.62" fill="#000" fill-opacity="0.970" filter="url(#bl1)"/>
<rect x="565.6" y="862.5" width="18" height="9" rx="2.25" fill="#000" fill-opacity="0.100" filter="url(#bl1)"/>
<rect x="565.85" y="860.75" width="17.5" height="6.5" rx="1.62" fill="#000" fill-opacity="0.970" filter="url(#bl1)"/>
<rect x="588.2" y="864.0" width="18" height="9" rx="2.25" fill="#000" fill-opacity="0.100" filter="url(#bl1)"/>
<rect x="588.45" y="862.25" width="17.5" height="6.5" rx="1.62" fill="#000" fill-opacity="0.970" filter="url(#bl1)"/>
</g>
<rect x="422.5" y="853.0" width="188.9" height="22.8" fill="none" stroke="#000" stroke-width="2"/>
<text x="379.0" y="837.0" font-size="9.5" textLength="41.7" lengthAdjust="spacingAndGlyphs" fill="#000" stroke="#000" stroke-width="0.08">Tyr1007/8</text>
<text x="379.0" y="848.6" font-size="9.5" textLength="27.5" lengthAdjust="spacingAndGlyphs" fill="#000" stroke="#000" stroke-width="0.08">pJAK2</text>
<text x="389.6" y="871.7" font-size="9.5" textLength="22.9" lengthAdjust="spacingAndGlyphs" fill="#000" stroke="#000" stroke-width="0.08">JAK2</text>
<line x1="612.4" y1="835.1" x2="617.5" y2="835.1" stroke="#000" stroke-width="1.8"/>
<line x1="612.4" y1="868.6" x2="617.5" y2="868.6" stroke="#000" stroke-width="1.8"/>
<text x="621.0" y="838.8" font-size="10.5" textLength="17.4" lengthAdjust="spacingAndGlyphs" fill="#000" stroke="#000" stroke-width="0.08">130</text>
<text x="621.0" y="872.3" font-size="10.5" textLength="17.4" lengthAdjust="spacingAndGlyphs" fill="#000" stroke="#000" stroke-width="0.08">130</text>
<text x="418.2" y="895.4" font-size="9.5" text-anchor="end" textLength="70.8" lengthAdjust="spacingAndGlyphs" fill="#000" stroke="#000" stroke-width="0.08">15 μM 4OH-TAM</text>
<text x="418.0" y="910.3" font-size="9.5" text-anchor="end" textLength="24.6" lengthAdjust="spacingAndGlyphs" fill="#000" stroke="#000" stroke-width="0.08">THPO</text>
<text x="415.7" y="925.9" font-size="9.5" text-anchor="end" textLength="20.6" lengthAdjust="spacingAndGlyphs" fill="#000" stroke="#000" stroke-width="0.08">MMS</text>
<text x="441.8" y="897.0" font-size="10" text-anchor="middle" fill="#000" stroke="#000" stroke-width="0.08">-</text>
<text x="462.9" y="897.0" font-size="10" text-anchor="middle" fill="#000" stroke="#000" stroke-width="0.08">+</text>
<text x="486.9" y="897.0" font-size="10" text-anchor="middle" fill="#000" stroke="#000" stroke-width="0.08">-</text>
<text x="508.0" y="897.0" font-size="10" text-anchor="middle" fill="#000" stroke="#000" stroke-width="0.08">+</text>
<text x="534.7" y="897.0" font-size="10" text-anchor="middle" fill="#000" stroke="#000" stroke-width="0.08">-</text>
<text x="555.8" y="897.0" font-size="10" text-anchor="middle" fill="#000" stroke="#000" stroke-width="0.08">+</text>
<text x="583.1" y="897.0" font-size="10" text-anchor="middle" fill="#000" stroke="#000" stroke-width="0.08">-</text>
<text x="604.2" y="897.0" font-size="10" text-anchor="middle" fill="#000" stroke="#000" stroke-width="0.08">+</text>
<text x="441.8" y="911.4" font-size="10" text-anchor="middle" fill="#000" stroke="#000" stroke-width="0.08">-</text>
<text x="462.9" y="911.4" font-size="10" text-anchor="middle" fill="#000" stroke="#000" stroke-width="0.08">-</text>
<text x="486.9" y="911.4" font-size="10" text-anchor="middle" fill="#000" stroke="#000" stroke-width="0.08">+</text>
<text x="508.0" y="911.4" font-size="10" text-anchor="middle" fill="#000" stroke="#000" stroke-width="0.08">+</text>
<text x="534.7" y="911.4" font-size="10" text-anchor="middle" fill="#000" stroke="#000" stroke-width="0.08">-</text>
<text x="555.8" y="911.4" font-size="10" text-anchor="middle" fill="#000" stroke="#000" stroke-width="0.08">-</text>
<text x="583.1" y="911.4" font-size="10" text-anchor="middle" fill="#000" stroke="#000" stroke-width="0.08">+</text>
<text x="604.2" y="911.4" font-size="10" text-anchor="middle" fill="#000" stroke="#000" stroke-width="0.08">+</text>
<text x="441.8" y="927.1" font-size="10" text-anchor="middle" fill="#000" stroke="#000" stroke-width="0.08">-</text>
<text x="462.9" y="927.1" font-size="10" text-anchor="middle" fill="#000" stroke="#000" stroke-width="0.08">-</text>
<text x="486.9" y="927.1" font-size="10" text-anchor="middle" fill="#000" stroke="#000" stroke-width="0.08">-</text>
<text x="508.0" y="927.1" font-size="10" text-anchor="middle" fill="#000" stroke="#000" stroke-width="0.08">-</text>
<text x="534.7" y="927.1" font-size="10" text-anchor="middle" fill="#000" stroke="#000" stroke-width="0.08">+</text>
<text x="555.8" y="927.1" font-size="10" text-anchor="middle" fill="#000" stroke="#000" stroke-width="0.08">+</text>
<text x="583.1" y="927.1" font-size="10" text-anchor="middle" fill="#000" stroke="#000" stroke-width="0.08">+</text>
<text x="604.2" y="927.1" font-size="10" text-anchor="middle" fill="#000" stroke="#000" stroke-width="0.08">+</text>
</svg></body></html>
